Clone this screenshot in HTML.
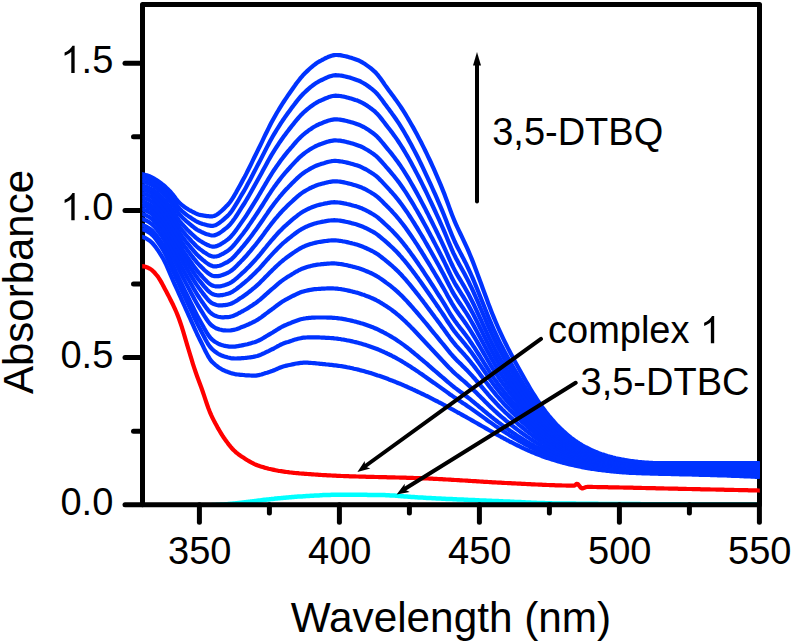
<!DOCTYPE html>
<html><head><meta charset="utf-8"><style>
html,body{margin:0;padding:0;background:#fff;}
svg{display:block;}
text{font-family:"Liberation Sans",sans-serif;fill:#000;}
</style></head><body>
<svg width="791" height="643" viewBox="0 0 791 643">
<rect width="791" height="643" fill="#fff"/>
<defs><clipPath id="cc"><rect x="142.5" y="0" width="617" height="504.8"/></clipPath><clipPath id="cb"><rect x="142.2" y="0" width="617.6" height="643"/></clipPath></defs>
<g clip-path="url(#cc)" fill="none" stroke="#00ffff" stroke-width="4.5" stroke-linejoin="round"><polyline points="139.5,505.5 142.5,505.5 143.9,505.5 145.3,505.5 146.7,505.5 148.1,505.5 149.5,505.5 150.9,505.5 152.3,505.5 153.7,505.5 155.1,505.5 156.5,505.5 157.9,505.5 159.3,505.5 160.7,505.5 162.1,505.5 163.5,505.5 164.9,505.5 166.3,505.5 167.7,505.5 169.1,505.5 170.5,505.5 171.9,505.5 173.3,505.5 174.7,505.5 176.1,505.5 177.5,505.5 178.9,505.5 180.3,505.5 181.7,505.5 183.1,505.5 184.5,505.5 185.9,505.5 187.3,505.5 188.7,505.5 190.1,505.5 191.5,505.5 192.9,505.5 194.3,505.5 195.7,505.5 197.1,505.5 198.5,505.5 199.9,505.5 201.3,505.5 202.7,505.5 204.1,505.5 205.5,505.4 206.9,505.4 208.3,505.3 209.7,505.2 211.1,505.2 212.5,505.1 213.9,505.0 215.3,504.9 216.7,504.8 218.1,504.8 219.5,504.7 220.9,504.6 222.3,504.5 223.7,504.4 225.1,504.3 226.5,504.2 227.9,504.1 229.3,503.9 230.7,503.8 232.1,503.7 233.5,503.5 234.9,503.4 236.3,503.2 237.7,503.1 239.1,502.9 240.5,502.7 241.9,502.6 243.3,502.4 244.7,502.2 246.1,502.1 247.5,501.9 248.9,501.7 250.3,501.6 251.7,501.4 253.1,501.2 254.5,501.1 255.9,500.9 257.3,500.7 258.7,500.5 260.1,500.4 261.5,500.2 262.9,500.0 264.3,499.8 265.7,499.7 267.1,499.5 268.5,499.4 269.9,499.2 271.3,499.1 272.7,498.9 274.1,498.8 275.5,498.6 276.9,498.5 278.3,498.3 279.7,498.2 281.1,498.1 282.5,497.9 283.9,497.8 285.3,497.7 286.7,497.5 288.1,497.4 289.5,497.3 290.9,497.2 292.3,497.0 293.7,496.9 295.1,496.8 296.5,496.7 297.9,496.6 299.3,496.5 300.7,496.5 302.1,496.4 303.5,496.3 304.9,496.2 306.3,496.1 307.7,496.0 309.1,495.9 310.5,495.8 311.9,495.8 313.3,495.7 314.7,495.6 316.1,495.5 317.5,495.4 318.9,495.4 320.3,495.3 321.7,495.2 323.1,495.1 324.5,495.1 325.9,495.0 327.3,495.0 328.7,494.9 330.1,494.9 331.5,494.8 332.9,494.8 334.3,494.8 335.7,494.7 337.1,494.7 338.5,494.7 339.9,494.7 341.3,494.7 342.7,494.7 344.1,494.7 345.5,494.7 346.9,494.7 348.3,494.7 349.7,494.7 351.1,494.7 352.5,494.7 353.9,494.7 355.3,494.7 356.7,494.8 358.1,494.8 359.5,494.8 360.9,494.8 362.3,494.8 363.7,494.8 365.1,494.8 366.5,494.8 367.9,494.9 369.3,494.9 370.7,494.9 372.1,494.9 373.5,494.9 374.9,494.9 376.3,495.0 377.7,495.0 379.1,495.0 380.5,495.0 381.9,495.0 383.3,495.1 384.7,495.1 386.1,495.2 387.5,495.2 388.9,495.3 390.3,495.4 391.7,495.5 393.1,495.5 394.5,495.6 395.9,495.7 397.3,495.8 398.7,495.9 400.1,496.0 401.5,496.2 402.9,496.3 404.3,496.4 405.7,496.5 407.1,496.6 408.5,496.7 409.9,496.8 411.3,496.9 412.7,497.0 414.1,497.1 415.5,497.2 416.9,497.3 418.3,497.4 419.7,497.5 421.1,497.6 422.5,497.6 423.9,497.7 425.3,497.8 426.7,497.9 428.1,497.9 429.5,498.0 430.9,498.1 432.3,498.2 433.7,498.2 435.1,498.3 436.5,498.4 437.9,498.4 439.3,498.5 440.7,498.6 442.1,498.7 443.5,498.7 444.9,498.8 446.3,498.9 447.7,498.9 449.1,499.0 450.5,499.1 451.9,499.1 453.3,499.2 454.7,499.3 456.1,499.3 457.5,499.4 458.9,499.4 460.3,499.5 461.7,499.6 463.1,499.6 464.5,499.7 465.9,499.8 467.3,499.8 468.7,499.9 470.1,500.0 471.5,500.0 472.9,500.1 474.3,500.1 475.7,500.2 477.1,500.3 478.5,500.3 479.9,500.4 481.3,500.4 482.7,500.5 484.1,500.5 485.5,500.6 486.9,500.7 488.3,500.7 489.7,500.8 491.1,500.8 492.5,500.9 493.9,501.0 495.3,501.0 496.7,501.1 498.1,501.1 499.5,501.2 500.9,501.2 502.3,501.3 503.7,501.4 505.1,501.4 506.5,501.5 507.9,501.5 509.3,501.6 510.7,501.7 512.1,501.7 513.5,501.8 514.9,501.9 516.3,501.9 517.7,502.0 519.1,502.1 520.5,502.1 521.9,502.2 523.3,502.3 524.7,502.3 526.1,502.4 527.5,502.5 528.9,502.5 530.3,502.6 531.7,502.7 533.1,502.7 534.5,502.8 535.9,502.8 537.3,502.9 538.7,502.9 540.1,503.0 541.5,503.0 542.9,503.1 544.3,503.1 545.7,503.2 547.1,503.2 548.5,503.3 549.9,503.3 551.3,503.3 552.7,503.4 554.1,503.4 555.5,503.4 556.9,503.5 558.3,503.5 559.7,503.5 561.1,503.5 562.5,503.5 563.9,503.5 565.3,503.6 566.7,503.6 568.1,503.6 569.5,503.6 570.9,503.6 572.3,503.6 573.7,503.6 575.1,503.6 576.5,503.7 577.9,503.7 579.3,503.7 580.7,503.7 582.1,503.7 583.5,503.7 584.9,503.7 586.3,503.8 587.7,503.8 589.1,503.8 590.5,503.8 591.9,503.8 593.3,503.8 594.7,503.8 596.1,503.8 597.5,503.8 598.9,503.9 600.3,503.9 601.7,503.9 603.1,503.9 604.5,503.9 605.9,503.9 607.3,503.9 608.7,503.9 610.1,503.9 611.5,504.0 612.9,504.0 614.3,504.0 615.7,504.0 617.1,504.0 618.5,504.0 619.9,504.0 621.3,504.0 622.7,504.0 624.1,504.0 625.5,504.1 626.9,504.1 628.3,504.1 629.7,504.1 631.1,504.1 632.5,504.1 633.9,504.1 635.3,504.1 636.7,504.1 638.1,504.1 639.5,504.1 640.9,504.2 642.3,504.2 643.7,504.2 645.1,504.2 646.5,504.2 647.9,504.2 649.3,504.2 650.7,504.2 652.1,504.2 653.5,504.2 654.9,504.2 656.3,504.2 657.7,504.2 659.1,504.3 660.5,504.3 661.9,504.3 663.3,504.3 664.7,504.3 666.1,504.3 667.5,504.3 668.9,504.3 670.3,504.3 671.7,504.3 673.1,504.3 674.5,504.3 675.9,504.3 677.3,504.3 678.7,504.3 680.1,504.3 681.5,504.4 682.9,504.4 684.3,504.4 685.7,504.4 687.1,504.4 688.5,504.4 689.9,504.4 691.3,504.4 692.7,504.4 694.1,504.4 695.5,504.4 696.9,504.4 698.3,504.4 699.7,504.4 701.1,504.4 702.5,504.4 703.9,504.4 705.3,504.4 706.7,504.4 708.1,504.4 709.5,504.4 710.9,504.4 712.3,504.4 713.7,504.4 715.1,504.5 716.5,504.5 717.9,504.5 719.3,504.5 720.7,504.5 722.1,504.5 723.5,504.5 724.9,504.5 726.3,504.5 727.7,504.5 729.1,504.5 730.5,504.5 731.9,504.5 733.3,504.5 734.7,504.5 736.1,504.5 737.5,504.5 738.9,504.5 740.3,504.5 741.7,504.5 743.1,504.5 744.5,504.5 745.9,504.5 747.3,504.5 748.7,504.5 750.1,504.5 751.5,504.5 752.9,504.5 754.3,504.5 755.7,504.5 757.1,504.5 758.5,504.5 762.5,504.5"/></g>
<g fill="none" stroke="#000" stroke-width="5" stroke-linecap="round">
<line x1="125" y1="504.8" x2="142.5" y2="504.8"/><line x1="125" y1="357.6" x2="142.5" y2="357.6"/><line x1="125" y1="210.4" x2="142.5" y2="210.4"/><line x1="125" y1="63.2" x2="142.5" y2="63.2"/><line x1="133.5" y1="431.2" x2="142.5" y2="431.2"/><line x1="133.5" y1="284.0" x2="142.5" y2="284.0"/><line x1="133.5" y1="136.8" x2="142.5" y2="136.8"/><line x1="199.4" y1="504.8" x2="199.4" y2="522.3"/><line x1="339.4" y1="504.8" x2="339.4" y2="522.3"/><line x1="479.4" y1="504.8" x2="479.4" y2="522.3"/><line x1="619.4" y1="504.8" x2="619.4" y2="522.3"/><line x1="759.4" y1="504.8" x2="759.4" y2="522.3"/><line x1="269.4" y1="504.8" x2="269.4" y2="513"/><line x1="409.4" y1="504.8" x2="409.4" y2="513"/><line x1="549.4" y1="504.8" x2="549.4" y2="513"/><line x1="689.4" y1="504.8" x2="689.4" y2="513"/>
</g>
<path d="M142.5,504.8 L142.5,4.5 L759.5,4.5 L759.5,504.8 Z" fill="none" stroke="#000" stroke-width="5" stroke-linejoin="round"/>
<g clip-path="url(#cb)" fill="none" stroke="#0033ff" stroke-width="4.2" stroke-linejoin="round">
<polyline points="139.5,236.8 142.5,237.0 143.9,237.4 145.3,238.0 146.7,238.8 148.1,239.7 149.5,240.6 150.9,241.7 152.3,243.0 153.7,244.6 155.1,246.3 156.5,248.2 157.9,250.2 159.3,252.4 160.7,254.6 162.1,256.9 163.5,259.3 164.9,262.0 166.3,264.9 167.7,268.1 169.1,271.3 170.5,274.6 171.9,277.9 173.3,281.2 174.7,284.4 176.1,287.4 177.5,290.5 178.9,293.6 180.3,296.7 181.7,299.8 183.1,302.9 184.5,306.0 185.9,309.1 187.3,312.2 188.7,315.3 190.1,318.4 191.5,321.6 192.9,324.7 194.3,327.9 195.7,330.9 197.1,334.0 198.5,336.9 199.9,339.7 201.3,342.5 202.7,345.4 204.1,348.4 205.5,351.2 206.9,353.9 208.3,356.5 209.7,358.7 211.1,360.7 212.5,362.2 213.9,363.5 215.3,364.8 216.7,365.9 218.1,367.0 219.5,367.9 220.9,368.8 222.3,369.6 223.7,370.3 225.1,370.9 226.5,371.4 227.9,372.0 229.3,372.5 230.7,373.0 232.1,373.4 233.5,373.7 234.9,374.1 236.3,374.3 237.7,374.5 239.1,374.6 240.5,374.8 241.9,374.9 243.3,375.0 244.7,375.2 246.1,375.3 247.5,375.4 248.9,375.4 250.3,375.5 251.7,375.6 253.1,375.6 254.5,375.6 255.9,375.6 257.3,375.4 258.7,375.2 260.1,374.8 261.5,374.5 262.9,374.0 264.3,373.6 265.7,373.1 267.1,372.7 268.5,372.2 269.9,371.8 271.3,371.3 272.7,370.8 274.1,370.2 275.5,369.6 276.9,369.0 278.3,368.4 279.7,367.8 281.1,367.2 282.5,366.7 283.9,366.3 285.3,365.9 286.7,365.6 288.1,365.3 289.5,365.0 290.9,364.7 292.3,364.4 293.7,364.1 295.1,363.8 296.5,363.5 297.9,363.3 299.3,363.1 300.7,362.9 302.1,362.8 303.5,362.7 304.9,362.7 306.3,362.7 307.7,362.7 309.1,362.8 310.5,362.9 311.9,363.0 313.3,363.1 314.7,363.2 316.1,363.3 317.5,363.5 318.9,363.6 320.3,363.8 321.7,363.9 323.1,364.1 324.5,364.2 325.9,364.4 327.3,364.5 328.7,364.6 330.1,364.8 331.5,364.9 332.9,365.1 334.3,365.3 335.7,365.4 337.1,365.6 338.5,365.8 339.9,366.0 341.3,366.2 342.7,366.4 344.1,366.7 345.5,366.9 346.9,367.2 348.3,367.5 349.7,367.7 351.1,368.0 352.5,368.3 353.9,368.7 355.3,369.0 356.7,369.3 358.1,369.6 359.5,370.0 360.9,370.4 362.3,370.7 363.7,371.1 365.1,371.5 366.5,371.9 367.9,372.3 369.3,372.7 370.7,373.1 372.1,373.6 373.5,374.0 374.9,374.4 376.3,374.9 377.7,375.4 379.1,375.8 380.5,376.3 381.9,376.8 383.3,377.3 384.7,377.8 386.1,378.3 387.5,378.8 388.9,379.4 390.3,379.9 391.7,380.4 393.1,381.0 394.5,381.5 395.9,382.1 397.3,382.7 398.7,383.3 400.1,383.8 401.5,384.4 402.9,385.0 404.3,385.6 405.7,386.2 407.1,386.8 408.5,387.5 409.9,388.1 411.3,388.7 412.7,389.4 414.1,390.0 415.5,390.7 416.9,391.3 418.3,392.0 419.7,392.6 421.1,393.3 422.5,394.0 423.9,394.7 425.3,395.4 426.7,396.0 428.1,396.7 429.5,397.4 430.9,398.1 432.3,398.8 433.7,399.6 435.1,400.3 436.5,401.0 437.9,401.7 439.3,402.5 440.7,403.2 442.1,403.9 443.5,404.7 444.9,405.4 446.3,406.2 447.7,406.9 449.1,407.7 450.5,408.4 451.9,409.2 453.3,409.9 454.7,410.7 456.1,411.5 457.5,412.3 458.9,413.0 460.3,413.8 461.7,414.6 463.1,415.4 464.5,416.2 465.9,416.9 467.3,417.7 468.7,418.5 470.1,419.3 471.5,420.1 472.9,420.9 474.3,421.7 475.7,422.5 477.1,423.3 478.5,424.1 479.9,424.9 481.3,425.7 482.7,426.5 484.1,427.3 485.5,428.1 486.9,428.9 488.3,429.7 489.7,430.5 491.1,431.3 492.5,432.1 493.9,432.9 495.3,433.7 496.7,434.5 498.1,435.2 499.5,436.0 500.9,436.8 502.3,437.5 503.7,438.3 505.1,439.0 506.5,439.8 507.9,440.5 509.3,441.3 510.7,442.0 512.1,442.7 513.5,443.4 514.9,444.1 516.3,444.8 517.7,445.5 519.1,446.2 520.5,446.9 521.9,447.6 523.3,448.2 524.7,448.9 526.1,449.5 527.5,450.1 528.9,450.8 530.3,451.4 531.7,452.0 533.1,452.6 534.5,453.1 535.9,453.7 537.3,454.3 538.7,454.8 540.1,455.3 541.5,455.9 542.9,456.4 544.3,456.9 545.7,457.4 547.1,457.9 548.5,458.3 549.9,458.8 551.3,459.2 552.7,459.7 554.1,460.1 555.5,460.6 556.9,461.0 558.3,461.4 559.7,461.8 561.1,462.2 562.5,462.6 563.9,462.9 565.3,463.3 566.7,463.7 568.1,464.0 569.5,464.4 570.9,464.7 572.3,465.0 573.7,465.3 575.1,465.6 576.5,466.0 577.9,466.2 579.3,466.5 580.7,466.8 582.1,467.1 583.5,467.4 584.9,467.6 586.3,467.9 587.7,468.1 589.1,468.3 590.5,468.6 591.9,468.8 593.3,469.0 594.7,469.2 596.1,469.4 597.5,469.6 598.9,469.8 600.3,470.0 601.7,470.2 603.1,470.4 604.5,470.5 605.9,470.7 607.3,470.9 608.7,471.0 610.1,471.2 611.5,471.3 612.9,471.5 614.3,471.6 615.7,471.7 617.1,471.8 618.5,472.0 619.9,472.1 621.3,472.2 622.7,472.3 624.1,472.4 625.5,472.5 626.9,472.6 628.3,472.7 629.7,472.8 631.1,472.8 632.5,472.9 633.9,473.0 635.3,473.0 636.7,473.1 638.1,473.1 639.5,473.2 640.9,473.2 642.3,473.3 643.7,473.3 645.1,473.4 646.5,473.4 647.9,473.5 649.3,473.5 650.7,473.6 652.1,473.6 653.5,473.6 654.9,473.7 656.3,473.7 657.7,473.7 659.1,473.8 660.5,473.8 661.9,473.8 663.3,473.9 664.7,473.9 666.1,473.9 667.5,474.0 668.9,474.0 670.3,474.0 671.7,474.1 673.1,474.1 674.5,474.1 675.9,474.2 677.3,474.2 678.7,474.2 680.1,474.3 681.5,474.3 682.9,474.3 684.3,474.4 685.7,474.4 687.1,474.4 688.5,474.5 689.9,474.5 691.3,474.5 692.7,474.6 694.1,474.6 695.5,474.6 696.9,474.7 698.3,474.7 699.7,474.8 701.1,474.8 702.5,474.8 703.9,474.9 705.3,474.9 706.7,474.9 708.1,475.0 709.5,475.0 710.9,475.1 712.3,475.1 713.7,475.1 715.1,475.2 716.5,475.2 717.9,475.3 719.3,475.3 720.7,475.4 722.1,475.4 723.5,475.4 724.9,475.5 726.3,475.5 727.7,475.6 729.1,475.6 730.5,475.7 731.9,475.8 733.3,475.8 734.7,475.9 736.1,475.9 737.5,476.0 738.9,476.0 740.3,476.1 741.7,476.2 743.1,476.2 744.5,476.3 745.9,476.3 747.3,476.4 748.7,476.5 750.1,476.5 751.5,476.6 752.9,476.7 754.3,476.7 755.7,476.8 757.1,476.9 758.5,476.9 762.5,477.2"/><polyline points="139.5,229.2 142.5,229.4 143.9,229.8 145.3,230.3 146.7,231.1 148.1,231.9 149.5,232.8 150.9,233.8 152.3,235.1 153.7,236.5 155.1,238.2 156.5,240.0 157.9,242.0 159.3,244.0 160.7,246.2 162.1,248.4 163.5,250.7 164.9,253.3 166.3,256.1 167.7,259.1 169.1,262.2 170.5,265.4 171.9,268.7 173.3,271.9 174.7,275.0 176.1,278.1 177.5,281.2 178.9,284.2 180.3,287.3 181.7,290.3 183.1,293.3 184.5,296.4 185.9,299.4 187.3,302.4 188.7,305.4 190.1,308.4 191.5,311.4 192.9,314.5 194.3,317.5 195.7,320.4 197.1,323.3 198.5,326.1 199.9,328.8 201.3,331.4 202.7,334.1 204.1,336.8 205.5,339.5 206.9,342.0 208.3,344.3 209.7,346.4 211.1,348.1 212.5,349.5 213.9,350.7 215.3,351.8 216.7,352.8 218.1,353.7 219.5,354.5 220.9,355.2 222.3,355.7 223.7,356.3 225.1,356.7 226.5,357.1 227.9,357.5 229.3,357.8 230.7,358.1 232.1,358.3 233.5,358.4 234.9,358.5 236.3,358.5 237.7,358.4 239.1,358.3 240.5,358.3 241.9,358.2 243.3,358.1 244.7,358.0 246.1,357.8 247.5,357.7 248.9,357.5 250.3,357.3 251.7,357.1 253.1,356.9 254.5,356.6 255.9,356.3 257.3,356.0 258.7,355.5 260.1,355.0 261.5,354.4 262.9,353.7 264.3,353.1 265.7,352.4 267.1,351.7 268.5,351.1 269.9,350.4 271.3,349.7 272.7,349.0 274.1,348.3 275.5,347.5 276.9,346.7 278.3,346.0 279.7,345.2 281.1,344.5 282.5,343.9 283.9,343.3 285.3,342.8 286.7,342.3 288.1,341.9 289.5,341.4 290.9,340.9 292.3,340.5 293.7,340.0 295.1,339.6 296.5,339.2 297.9,338.8 299.3,338.5 300.7,338.2 302.1,337.9 303.5,337.7 304.9,337.6 306.3,337.5 307.7,337.4 309.1,337.3 310.5,337.3 311.9,337.3 313.3,337.3 314.7,337.3 316.1,337.3 317.5,337.4 318.9,337.4 320.3,337.5 321.7,337.6 323.1,337.6 324.5,337.7 325.9,337.8 327.3,337.9 328.7,337.9 330.1,338.0 331.5,338.1 332.9,338.2 334.3,338.4 335.7,338.5 337.1,338.7 338.5,338.9 339.9,339.0 341.3,339.3 342.7,339.5 344.1,339.7 345.5,340.0 346.9,340.3 348.3,340.5 349.7,340.8 351.1,341.1 352.5,341.4 353.9,341.8 355.3,342.1 356.7,342.4 358.1,342.8 359.5,343.2 360.9,343.6 362.3,344.0 363.7,344.4 365.1,344.8 366.5,345.3 367.9,345.7 369.3,346.2 370.7,346.7 372.1,347.2 373.5,347.7 374.9,348.2 376.3,348.7 377.7,349.3 379.1,349.9 380.5,350.5 381.9,351.1 383.3,351.7 384.7,352.4 386.1,353.0 387.5,353.7 388.9,354.3 390.3,355.0 391.7,355.7 393.1,356.5 394.5,357.2 395.9,357.9 397.3,358.7 398.7,359.5 400.1,360.3 401.5,361.1 402.9,362.0 404.3,362.8 405.7,363.7 407.1,364.5 408.5,365.4 409.9,366.3 411.3,367.2 412.7,368.2 414.1,369.1 415.5,370.0 416.9,370.9 418.3,371.9 419.7,372.9 421.1,373.8 422.5,374.8 423.9,375.8 425.3,376.7 426.7,377.7 428.1,378.7 429.5,379.7 430.9,380.7 432.3,381.7 433.7,382.7 435.1,383.6 436.5,384.6 437.9,385.6 439.3,386.6 440.7,387.6 442.1,388.6 443.5,389.6 444.9,390.6 446.3,391.6 447.7,392.6 449.1,393.7 450.5,394.7 451.9,395.6 453.3,396.6 454.7,397.6 456.1,398.5 457.5,399.4 458.9,400.4 460.3,401.3 461.7,402.2 463.1,403.2 464.5,404.1 465.9,405.0 467.3,406.0 468.7,406.9 470.1,407.9 471.5,408.9 472.9,409.9 474.3,410.9 475.7,411.9 477.1,412.9 478.5,413.9 479.9,414.9 481.3,415.9 482.7,416.9 484.1,417.9 485.5,418.9 486.9,420.0 488.3,421.0 489.7,421.9 491.1,422.9 492.5,423.9 493.9,424.9 495.3,425.9 496.7,426.8 498.1,427.8 499.5,428.7 500.9,429.6 502.3,430.5 503.7,431.4 505.1,432.3 506.5,433.2 507.9,434.1 509.3,435.0 510.7,435.9 512.1,436.7 513.5,437.6 514.9,438.4 516.3,439.2 517.7,440.1 519.1,440.9 520.5,441.7 521.9,442.5 523.3,443.3 524.7,444.0 526.1,444.8 527.5,445.5 528.9,446.3 530.3,447.0 531.7,447.7 533.1,448.4 534.5,449.1 535.9,449.8 537.3,450.4 538.7,451.1 540.1,451.7 541.5,452.3 542.9,452.9 544.3,453.5 545.7,454.1 547.1,454.7 548.5,455.2 549.9,455.8 551.3,456.3 552.7,456.8 554.1,457.3 555.5,457.8 556.9,458.3 558.3,458.8 559.7,459.3 561.1,459.7 562.5,460.2 563.9,460.6 565.3,461.0 566.7,461.4 568.1,461.9 569.5,462.2 570.9,462.6 572.3,463.0 573.7,463.4 575.1,463.7 576.5,464.1 577.9,464.4 579.3,464.7 580.7,465.1 582.1,465.4 583.5,465.7 584.9,466.0 586.3,466.2 587.7,466.5 589.1,466.8 590.5,467.1 591.9,467.3 593.3,467.6 594.7,467.8 596.1,468.0 597.5,468.2 598.9,468.5 600.3,468.7 601.7,468.9 603.1,469.1 604.5,469.3 605.9,469.4 607.3,469.6 608.7,469.8 610.1,470.0 611.5,470.1 612.9,470.3 614.3,470.4 615.7,470.6 617.1,470.7 618.5,470.8 619.9,471.0 621.3,471.1 622.7,471.2 624.1,471.3 625.5,471.4 626.9,471.5 628.3,471.6 629.7,471.7 631.1,471.8 632.5,471.9 633.9,472.0 635.3,472.0 636.7,472.1 638.1,472.2 639.5,472.2 640.9,472.3 642.3,472.3 643.7,472.4 645.1,472.4 646.5,472.5 647.9,472.5 649.3,472.6 650.7,472.6 652.1,472.7 653.5,472.7 654.9,472.7 656.3,472.8 657.7,472.8 659.1,472.8 660.5,472.9 661.9,472.9 663.3,472.9 664.7,473.0 666.1,473.0 667.5,473.0 668.9,473.0 670.3,473.1 671.7,473.1 673.1,473.1 674.5,473.2 675.9,473.2 677.3,473.2 678.7,473.2 680.1,473.3 681.5,473.3 682.9,473.3 684.3,473.4 685.7,473.4 687.1,473.4 688.5,473.5 689.9,473.5 691.3,473.5 692.7,473.6 694.1,473.6 695.5,473.6 696.9,473.7 698.3,473.7 699.7,473.7 701.1,473.8 702.5,473.8 703.9,473.8 705.3,473.9 706.7,473.9 708.1,473.9 709.5,474.0 710.9,474.0 712.3,474.1 713.7,474.1 715.1,474.1 716.5,474.2 717.9,474.2 719.3,474.2 720.7,474.3 722.1,474.3 723.5,474.4 724.9,474.4 726.3,474.5 727.7,474.5 729.1,474.5 730.5,474.6 731.9,474.6 733.3,474.7 734.7,474.7 736.1,474.8 737.5,474.9 738.9,474.9 740.3,475.0 741.7,475.0 743.1,475.1 744.5,475.1 745.9,475.2 747.3,475.2 748.7,475.3 750.1,475.4 751.5,475.4 752.9,475.5 754.3,475.5 755.7,475.6 757.1,475.7 758.5,475.7 762.5,475.9"/><polyline points="139.5,225.0 142.5,225.2 143.9,225.6 145.3,226.2 146.7,226.9 148.1,227.7 149.5,228.6 150.9,229.5 152.3,230.7 153.7,232.2 155.1,233.7 156.5,235.5 157.9,237.4 159.3,239.4 160.7,241.4 162.1,243.5 163.5,245.8 164.9,248.3 166.3,251.0 167.7,253.9 169.1,256.9 170.5,260.0 171.9,263.1 173.3,266.2 174.7,269.3 176.1,272.3 177.5,275.2 178.9,278.2 180.3,281.1 181.7,284.0 183.1,286.9 184.5,289.8 185.9,292.7 187.3,295.5 188.7,298.4 190.1,301.3 191.5,304.1 192.9,307.0 194.3,309.9 195.7,312.7 197.1,315.4 198.5,318.0 199.9,320.5 201.3,323.0 202.7,325.5 204.1,328.1 205.5,330.5 206.9,332.9 208.3,335.0 209.7,337.0 211.1,338.6 212.5,339.9 213.9,341.0 215.3,342.0 216.7,342.8 218.1,343.6 219.5,344.2 220.9,344.8 222.3,345.2 223.7,345.6 225.1,345.9 226.5,346.2 227.9,346.4 229.3,346.6 230.7,346.7 232.1,346.7 233.5,346.7 234.9,346.6 236.3,346.4 237.7,346.2 239.1,345.9 240.5,345.7 241.9,345.4 243.3,345.1 244.7,344.8 246.1,344.5 247.5,344.2 248.9,343.8 250.3,343.4 251.7,343.0 253.1,342.6 254.5,342.2 255.9,341.7 257.3,341.1 258.7,340.5 260.1,339.8 261.5,339.1 262.9,338.3 264.3,337.4 265.7,336.6 267.1,335.7 268.5,334.9 269.9,334.1 271.3,333.3 272.7,332.5 274.1,331.6 275.5,330.7 276.9,329.8 278.3,328.9 279.7,328.1 281.1,327.3 282.5,326.5 283.9,325.8 285.3,325.2 286.7,324.6 288.1,324.0 289.5,323.4 290.9,322.9 292.3,322.3 293.7,321.7 295.1,321.2 296.5,320.7 297.9,320.2 299.3,319.7 300.7,319.3 302.1,319.0 303.5,318.7 304.9,318.5 306.3,318.2 307.7,318.1 309.1,317.9 310.5,317.8 311.9,317.7 313.3,317.6 314.7,317.6 316.1,317.5 317.5,317.5 318.9,317.5 320.3,317.5 321.7,317.5 323.1,317.5 324.5,317.5 325.9,317.5 327.3,317.6 328.7,317.6 330.1,317.6 331.5,317.7 332.9,317.8 334.3,317.9 335.7,318.0 337.1,318.1 338.5,318.3 339.9,318.5 341.3,318.7 342.7,318.9 344.1,319.2 345.5,319.4 346.9,319.7 348.3,320.0 349.7,320.3 351.1,320.6 352.5,320.9 353.9,321.3 355.3,321.6 356.7,322.0 358.1,322.4 359.5,322.7 360.9,323.2 362.3,323.6 363.7,324.0 365.1,324.5 366.5,325.0 367.9,325.5 369.3,326.0 370.7,326.5 372.1,327.1 373.5,327.6 374.9,328.2 376.3,328.8 377.7,329.4 379.1,330.1 380.5,330.8 381.9,331.5 383.3,332.2 384.7,333.0 386.1,333.7 387.5,334.5 388.9,335.3 390.3,336.1 391.7,336.9 393.1,337.8 394.5,338.6 395.9,339.5 397.3,340.5 398.7,341.4 400.1,342.4 401.5,343.4 402.9,344.4 404.3,345.4 405.7,346.5 407.1,347.5 408.5,348.6 409.9,349.7 411.3,350.9 412.7,352.0 414.1,353.1 415.5,354.3 416.9,355.4 418.3,356.6 419.7,357.8 421.1,359.0 422.5,360.1 423.9,361.3 425.3,362.5 426.7,363.7 428.1,364.9 429.5,366.2 430.9,367.4 432.3,368.6 433.7,369.8 435.1,371.0 436.5,372.2 437.9,373.4 439.3,374.6 440.7,375.8 442.1,377.0 443.5,378.2 444.9,379.4 446.3,380.6 447.7,381.8 449.1,383.0 450.5,384.2 451.9,385.3 453.3,386.5 454.7,387.6 456.1,388.6 457.5,389.7 458.9,390.7 460.3,391.8 461.7,392.8 463.1,393.8 464.5,394.9 465.9,396.0 467.3,397.0 468.7,398.1 470.1,399.2 471.5,400.3 472.9,401.5 474.3,402.6 475.7,403.8 477.1,404.9 478.5,406.1 479.9,407.3 481.3,408.4 482.7,409.6 484.1,410.8 485.5,412.0 486.9,413.1 488.3,414.3 489.7,415.4 491.1,416.6 492.5,417.7 493.9,418.8 495.3,419.9 496.7,421.0 498.1,422.1 499.5,423.1 500.9,424.2 502.3,425.2 503.7,426.2 505.1,427.2 506.5,428.2 507.9,429.2 509.3,430.2 510.7,431.2 512.1,432.1 513.5,433.1 514.9,434.0 516.3,435.0 517.7,435.9 519.1,436.8 520.5,437.7 521.9,438.6 523.3,439.5 524.7,440.3 526.1,441.2 527.5,442.0 528.9,442.9 530.3,443.7 531.7,444.5 533.1,445.2 534.5,446.0 535.9,446.8 537.3,447.5 538.7,448.2 540.1,448.9 541.5,449.6 542.9,450.3 544.3,451.0 545.7,451.6 547.1,452.3 548.5,452.9 549.9,453.5 551.3,454.1 552.7,454.7 554.1,455.2 555.5,455.8 556.9,456.3 558.3,456.8 559.7,457.4 561.1,457.9 562.5,458.4 563.9,458.8 565.3,459.3 566.7,459.8 568.1,460.2 569.5,460.6 570.9,461.1 572.3,461.5 573.7,461.9 575.1,462.3 576.5,462.6 577.9,463.0 579.3,463.4 580.7,463.7 582.1,464.1 583.5,464.4 584.9,464.7 586.3,465.0 587.7,465.3 589.1,465.6 590.5,465.9 591.9,466.2 593.3,466.4 594.7,466.7 596.1,466.9 597.5,467.2 598.9,467.4 600.3,467.6 601.7,467.9 603.1,468.1 604.5,468.3 605.9,468.5 607.3,468.7 608.7,468.9 610.1,469.0 611.5,469.2 612.9,469.4 614.3,469.5 615.7,469.7 617.1,469.8 618.5,470.0 619.9,470.1 621.3,470.3 622.7,470.4 624.1,470.5 625.5,470.6 626.9,470.7 628.3,470.8 629.7,470.9 631.1,471.0 632.5,471.1 633.9,471.2 635.3,471.3 636.7,471.4 638.1,471.4 639.5,471.5 640.9,471.6 642.3,471.6 643.7,471.7 645.1,471.7 646.5,471.8 647.9,471.8 649.3,471.9 650.7,471.9 652.1,472.0 653.5,472.0 654.9,472.0 656.3,472.1 657.7,472.1 659.1,472.1 660.5,472.2 661.9,472.2 663.3,472.2 664.7,472.2 666.1,472.3 667.5,472.3 668.9,472.3 670.3,472.3 671.7,472.4 673.1,472.4 674.5,472.4 675.9,472.5 677.3,472.5 678.7,472.5 680.1,472.5 681.5,472.6 682.9,472.6 684.3,472.6 685.7,472.6 687.1,472.7 688.5,472.7 689.9,472.7 691.3,472.8 692.7,472.8 694.1,472.8 695.5,472.9 696.9,472.9 698.3,472.9 699.7,473.0 701.1,473.0 702.5,473.0 703.9,473.1 705.3,473.1 706.7,473.1 708.1,473.2 709.5,473.2 710.9,473.2 712.3,473.3 713.7,473.3 715.1,473.3 716.5,473.4 717.9,473.4 719.3,473.4 720.7,473.5 722.1,473.5 723.5,473.5 724.9,473.6 726.3,473.6 727.7,473.7 729.1,473.7 730.5,473.8 731.9,473.8 733.3,473.8 734.7,473.9 736.1,473.9 737.5,474.0 738.9,474.0 740.3,474.1 741.7,474.1 743.1,474.2 744.5,474.2 745.9,474.3 747.3,474.4 748.7,474.4 750.1,474.5 751.5,474.5 752.9,474.6 754.3,474.6 755.7,474.7 757.1,474.8 758.5,474.8 762.5,475.0"/><polyline points="139.5,219.0 142.5,219.2 143.9,219.6 145.3,220.2 146.7,220.8 148.1,221.6 149.5,222.5 150.9,223.4 152.3,224.5 153.7,225.9 155.1,227.4 156.5,229.0 157.9,230.8 159.3,232.7 160.7,234.6 162.1,236.6 163.5,238.8 164.9,241.1 166.3,243.7 167.7,246.4 169.1,249.2 170.5,252.1 171.9,255.1 173.3,258.1 174.7,261.0 176.1,263.9 177.5,266.7 178.9,269.5 180.3,272.3 181.7,275.0 183.1,277.7 184.5,280.4 185.9,283.1 187.3,285.7 188.7,288.4 190.1,291.0 191.5,293.7 192.9,296.3 194.3,299.0 195.7,301.5 197.1,304.0 198.5,306.4 199.9,308.7 201.3,310.9 202.7,313.2 204.1,315.5 205.5,317.7 206.9,319.8 208.3,321.7 209.7,323.5 211.1,324.9 212.5,326.1 213.9,327.0 215.3,327.8 216.7,328.5 218.1,329.0 219.5,329.5 220.9,329.8 222.3,330.1 223.7,330.3 225.1,330.4 226.5,330.5 227.9,330.5 229.3,330.5 230.7,330.4 232.1,330.2 233.5,329.9 234.9,329.6 236.3,329.2 237.7,328.7 239.1,328.2 240.5,327.6 241.9,327.1 243.3,326.6 244.7,326.0 246.1,325.4 247.5,324.8 248.9,324.2 250.3,323.5 251.7,322.9 253.1,322.2 254.5,321.5 255.9,320.7 257.3,319.9 258.7,319.0 260.1,318.1 261.5,317.1 262.9,316.0 264.3,315.0 265.7,313.9 267.1,312.9 268.5,311.8 269.9,310.8 271.3,309.8 272.7,308.7 274.1,307.7 275.5,306.6 276.9,305.5 278.3,304.5 279.7,303.5 281.1,302.5 282.5,301.6 283.9,300.7 285.3,299.9 286.7,299.2 288.1,298.4 289.5,297.7 290.9,296.9 292.3,296.2 293.7,295.5 295.1,294.8 296.5,294.1 297.9,293.5 299.3,292.9 300.7,292.3 302.1,291.8 303.5,291.4 304.9,291.0 306.3,290.7 307.7,290.4 309.1,290.1 310.5,289.8 311.9,289.6 313.3,289.4 314.7,289.2 316.1,289.1 317.5,289.0 318.9,288.9 320.3,288.8 321.7,288.7 323.1,288.6 324.5,288.6 325.9,288.5 327.3,288.4 328.7,288.4 330.1,288.4 331.5,288.4 332.9,288.4 334.3,288.5 335.7,288.6 337.1,288.7 338.5,288.9 339.9,289.0 341.3,289.2 342.7,289.5 344.1,289.7 345.5,290.0 346.9,290.3 348.3,290.6 349.7,290.9 351.1,291.2 352.5,291.6 353.9,291.9 355.3,292.3 356.7,292.6 358.1,293.0 359.5,293.4 360.9,293.9 362.3,294.4 363.7,294.8 365.1,295.4 366.5,295.9 367.9,296.4 369.3,297.0 370.7,297.6 372.1,298.2 373.5,298.8 374.9,299.5 376.3,300.2 377.7,301.0 379.1,301.7 380.5,302.6 381.9,303.4 383.3,304.3 384.7,305.2 386.1,306.1 387.5,307.0 388.9,307.9 390.3,308.9 391.7,309.9 393.1,311.0 394.5,312.0 395.9,313.1 397.3,314.3 398.7,315.4 400.1,316.7 401.5,317.9 402.9,319.2 404.3,320.5 405.7,321.8 407.1,323.2 408.5,324.5 409.9,325.9 411.3,327.4 412.7,328.8 414.1,330.2 415.5,331.7 416.9,333.2 418.3,334.7 419.7,336.2 421.1,337.7 422.5,339.2 423.9,340.7 425.3,342.2 426.7,343.7 428.1,345.2 429.5,346.7 430.9,348.3 432.3,349.8 433.7,351.3 435.1,352.8 436.5,354.3 437.9,355.8 439.3,357.3 440.7,358.8 442.1,360.3 443.5,361.7 444.9,363.2 446.3,364.7 447.7,366.2 449.1,367.7 450.5,369.1 451.9,370.5 453.3,371.9 454.7,373.2 456.1,374.5 457.5,375.7 458.9,376.9 460.3,378.1 461.7,379.3 463.1,380.5 464.5,381.7 465.9,382.9 467.3,384.2 468.7,385.5 470.1,386.8 471.5,388.1 472.9,389.4 474.3,390.8 475.7,392.1 477.1,393.5 478.5,394.9 479.9,396.3 481.3,397.7 482.7,399.1 484.1,400.5 485.5,401.9 486.9,403.3 488.3,404.7 489.7,406.1 491.1,407.4 492.5,408.7 493.9,410.1 495.3,411.3 496.7,412.6 498.1,413.9 499.5,415.1 500.9,416.3 502.3,417.5 503.7,418.7 505.1,419.9 506.5,421.1 507.9,422.2 509.3,423.3 510.7,424.5 512.1,425.6 513.5,426.7 514.9,427.8 516.3,428.8 517.7,429.9 519.1,430.9 520.5,432.0 521.9,433.0 523.3,434.0 524.7,435.0 526.1,436.0 527.5,437.0 528.9,437.9 530.3,438.9 531.7,439.8 533.1,440.7 534.5,441.6 535.9,442.5 537.3,443.3 538.7,444.2 540.1,445.0 541.5,445.8 542.9,446.5 544.3,447.3 545.7,448.1 547.1,448.8 548.5,449.5 549.9,450.2 551.3,450.9 552.7,451.5 554.1,452.2 555.5,452.8 556.9,453.4 558.3,454.0 559.7,454.6 561.1,455.2 562.5,455.7 563.9,456.3 565.3,456.8 566.7,457.3 568.1,457.8 569.5,458.3 570.9,458.8 572.3,459.3 573.7,459.7 575.1,460.2 576.5,460.6 577.9,461.0 579.3,461.4 580.7,461.8 582.1,462.2 583.5,462.5 584.9,462.9 586.3,463.2 587.7,463.6 589.1,463.9 590.5,464.2 591.9,464.5 593.3,464.8 594.7,465.1 596.1,465.4 597.5,465.7 598.9,465.9 600.3,466.2 601.7,466.4 603.1,466.7 604.5,466.9 605.9,467.1 607.3,467.3 608.7,467.5 610.1,467.7 611.5,467.9 612.9,468.1 614.3,468.3 615.7,468.4 617.1,468.6 618.5,468.8 619.9,468.9 621.3,469.1 622.7,469.2 624.1,469.3 625.5,469.5 626.9,469.6 628.3,469.7 629.7,469.8 631.1,469.9 632.5,470.0 633.9,470.1 635.3,470.2 636.7,470.3 638.1,470.4 639.5,470.4 640.9,470.5 642.3,470.6 643.7,470.6 645.1,470.7 646.5,470.7 647.9,470.8 649.3,470.9 650.7,470.9 652.1,470.9 653.5,471.0 654.9,471.0 656.3,471.1 657.7,471.1 659.1,471.1 660.5,471.2 661.9,471.2 663.3,471.2 664.7,471.2 666.1,471.2 667.5,471.3 668.9,471.3 670.3,471.3 671.7,471.3 673.1,471.4 674.5,471.4 675.9,471.4 677.3,471.4 678.7,471.4 680.1,471.5 681.5,471.5 682.9,471.5 684.3,471.5 685.7,471.6 687.1,471.6 688.5,471.6 689.9,471.6 691.3,471.7 692.7,471.7 694.1,471.7 695.5,471.8 696.9,471.8 698.3,471.8 699.7,471.8 701.1,471.9 702.5,471.9 703.9,471.9 705.3,472.0 706.7,472.0 708.1,472.0 709.5,472.0 710.9,472.1 712.3,472.1 713.7,472.1 715.1,472.2 716.5,472.2 717.9,472.2 719.3,472.3 720.7,472.3 722.1,472.3 723.5,472.4 724.9,472.4 726.3,472.4 727.7,472.5 729.1,472.5 730.5,472.6 731.9,472.6 733.3,472.6 734.7,472.7 736.1,472.7 737.5,472.8 738.9,472.8 740.3,472.9 741.7,472.9 743.1,472.9 744.5,473.0 745.9,473.0 747.3,473.1 748.7,473.1 750.1,473.2 751.5,473.2 752.9,473.3 754.3,473.3 755.7,473.4 757.1,473.4 758.5,473.5 762.5,473.6"/><polyline points="139.5,213.9 142.5,214.2 143.9,214.6 145.3,215.1 146.7,215.7 148.1,216.5 149.5,217.3 150.9,218.2 152.3,219.3 153.7,220.5 155.1,222.0 156.5,223.5 157.9,225.2 159.3,227.0 160.7,228.9 162.1,230.8 163.5,232.8 164.9,235.0 166.3,237.5 167.7,240.0 169.1,242.7 170.5,245.4 171.9,248.3 173.3,251.1 174.7,254.0 176.1,256.7 177.5,259.5 178.9,262.2 180.3,264.8 181.7,267.4 183.1,269.9 184.5,272.4 185.9,274.9 187.3,277.4 188.7,279.8 190.1,282.3 191.5,284.8 192.9,287.2 194.3,289.7 195.7,292.0 197.1,294.3 198.5,296.5 199.9,298.6 201.3,300.7 202.7,302.7 204.1,304.8 205.5,306.8 206.9,308.7 208.3,310.4 209.7,312.0 211.1,313.3 212.5,314.3 213.9,315.1 215.3,315.8 216.7,316.3 218.1,316.7 219.5,317.0 220.9,317.2 222.3,317.3 223.7,317.3 225.1,317.2 226.5,317.2 227.9,317.1 229.3,316.9 230.7,316.6 232.1,316.2 233.5,315.7 234.9,315.1 236.3,314.5 237.7,313.8 239.1,313.0 240.5,312.3 241.9,311.5 243.3,310.8 244.7,310.0 246.1,309.2 247.5,308.4 248.9,307.5 250.3,306.6 251.7,305.7 253.1,304.8 254.5,303.8 255.9,302.9 257.3,301.8 258.7,300.7 260.1,299.6 261.5,298.4 262.9,297.2 264.3,295.9 265.7,294.6 267.1,293.4 268.5,292.1 269.9,290.9 271.3,289.7 272.7,288.5 274.1,287.3 275.5,286.1 276.9,284.9 278.3,283.7 279.7,282.5 281.1,281.4 282.5,280.4 283.9,279.4 285.3,278.4 286.7,277.5 288.1,276.6 289.5,275.8 290.9,274.9 292.3,274.0 293.7,273.2 295.1,272.3 296.5,271.5 297.9,270.8 299.3,270.0 300.7,269.4 302.1,268.7 303.5,268.2 304.9,267.7 306.3,267.2 307.7,266.8 309.1,266.4 310.5,266.1 311.9,265.7 313.3,265.4 314.7,265.2 316.1,264.9 317.5,264.7 318.9,264.5 320.3,264.4 321.7,264.2 323.1,264.1 324.5,263.9 325.9,263.8 327.3,263.7 328.7,263.6 330.1,263.5 331.5,263.4 332.9,263.4 334.3,263.4 335.7,263.5 337.1,263.7 338.5,263.8 339.9,264.0 341.3,264.2 342.7,264.4 344.1,264.7 345.5,265.0 346.9,265.2 348.3,265.6 349.7,265.9 351.1,266.2 352.5,266.6 353.9,266.9 355.3,267.3 356.7,267.7 358.1,268.1 359.5,268.5 360.9,269.0 362.3,269.5 363.7,270.0 365.1,270.6 366.5,271.2 367.9,271.8 369.3,272.4 370.7,273.0 372.1,273.7 373.5,274.4 374.9,275.1 376.3,275.9 377.7,276.7 379.1,277.6 380.5,278.6 381.9,279.5 383.3,280.5 384.7,281.5 386.1,282.6 387.5,283.6 388.9,284.6 390.3,285.7 391.7,286.8 393.1,288.0 394.5,289.2 395.9,290.4 397.3,291.6 398.7,292.9 400.1,294.3 401.5,295.6 402.9,297.0 404.3,298.5 405.7,299.9 407.1,301.4 408.5,303.0 409.9,304.5 411.3,306.1 412.7,307.7 414.1,309.3 415.5,310.9 416.9,312.5 418.3,314.1 419.7,315.8 421.1,317.5 422.5,319.2 423.9,320.8 425.3,322.5 426.7,324.2 428.1,325.9 429.5,327.6 430.9,329.4 432.3,331.1 433.7,332.8 435.1,334.5 436.5,336.2 437.9,337.9 439.3,339.6 440.7,341.3 442.1,343.0 443.5,344.7 444.9,346.4 446.3,348.1 447.7,349.9 449.1,351.6 450.5,353.3 451.9,354.9 453.3,356.5 454.7,358.0 456.1,359.5 457.5,360.9 458.9,362.3 460.3,363.6 461.7,365.0 463.1,366.4 464.5,367.8 465.9,369.2 467.3,370.6 468.7,372.1 470.1,373.6 471.5,375.1 472.9,376.7 474.3,378.2 475.7,379.9 477.1,381.5 478.5,383.1 479.9,384.7 481.3,386.4 482.7,388.0 484.1,389.7 485.5,391.3 486.9,392.9 488.3,394.6 489.7,396.2 491.1,397.7 492.5,399.3 493.9,400.8 495.3,402.3 496.7,403.8 498.1,405.2 499.5,406.7 500.9,408.1 502.3,409.5 503.7,410.8 505.1,412.2 506.5,413.5 507.9,414.8 509.3,416.1 510.7,417.4 512.1,418.6 513.5,419.9 514.9,421.1 516.3,422.3 517.7,423.6 519.1,424.8 520.5,426.0 521.9,427.1 523.3,428.3 524.7,429.4 526.1,430.6 527.5,431.7 528.9,432.8 530.3,433.9 531.7,434.9 533.1,436.0 534.5,437.0 535.9,438.0 537.3,439.0 538.7,439.9 540.1,440.9 541.5,441.8 542.9,442.7 544.3,443.5 545.7,444.4 547.1,445.2 548.5,446.0 549.9,446.8 551.3,447.6 552.7,448.4 554.1,449.1 555.5,449.8 556.9,450.5 558.3,451.2 559.7,451.9 561.1,452.5 562.5,453.2 563.9,453.8 565.3,454.4 566.7,455.0 568.1,455.5 569.5,456.1 570.9,456.6 572.3,457.1 573.7,457.6 575.1,458.1 576.5,458.6 577.9,459.1 579.3,459.5 580.7,460.0 582.1,460.4 583.5,460.8 584.9,461.2 586.3,461.6 587.7,462.0 589.1,462.4 590.5,462.7 591.9,463.0 593.3,463.4 594.7,463.7 596.1,464.0 597.5,464.3 598.9,464.6 600.3,464.9 601.7,465.1 603.1,465.4 604.5,465.6 605.9,465.9 607.3,466.1 608.7,466.3 610.1,466.6 611.5,466.8 612.9,467.0 614.3,467.2 615.7,467.3 617.1,467.5 618.5,467.7 619.9,467.9 621.3,468.0 622.7,468.2 624.1,468.3 625.5,468.5 626.9,468.6 628.3,468.7 629.7,468.9 631.1,469.0 632.5,469.1 633.9,469.2 635.3,469.3 636.7,469.4 638.1,469.4 639.5,469.5 640.9,469.6 642.3,469.7 643.7,469.7 645.1,469.8 646.5,469.9 647.9,469.9 649.3,470.0 650.7,470.0 652.1,470.1 653.5,470.1 654.9,470.2 656.3,470.2 657.7,470.2 659.1,470.3 660.5,470.3 661.9,470.3 663.3,470.3 664.7,470.4 666.1,470.4 667.5,470.4 668.9,470.4 670.3,470.4 671.7,470.4 673.1,470.5 674.5,470.5 675.9,470.5 677.3,470.5 678.7,470.5 680.1,470.6 681.5,470.6 682.9,470.6 684.3,470.6 685.7,470.7 687.1,470.7 688.5,470.7 689.9,470.7 691.3,470.7 692.7,470.8 694.1,470.8 695.5,470.8 696.9,470.8 698.3,470.9 699.7,470.9 701.1,470.9 702.5,470.9 703.9,471.0 705.3,471.0 706.7,471.0 708.1,471.0 709.5,471.1 710.9,471.1 712.3,471.1 713.7,471.2 715.1,471.2 716.5,471.2 717.9,471.2 719.3,471.3 720.7,471.3 722.1,471.3 723.5,471.4 724.9,471.4 726.3,471.4 727.7,471.5 729.1,471.5 730.5,471.5 731.9,471.6 733.3,471.6 734.7,471.6 736.1,471.7 737.5,471.7 738.9,471.8 740.3,471.8 741.7,471.8 743.1,471.9 744.5,471.9 745.9,472.0 747.3,472.0 748.7,472.0 750.1,472.1 751.5,472.1 752.9,472.2 754.3,472.2 755.7,472.3 757.1,472.3 758.5,472.4 762.5,472.5"/><polyline points="139.5,209.3 142.5,209.5 143.9,209.9 145.3,210.4 146.7,211.0 148.1,211.7 149.5,212.5 150.9,213.3 152.3,214.4 153.7,215.6 155.1,217.0 156.5,218.5 157.9,220.1 159.3,221.8 160.7,223.5 162.1,225.3 163.5,227.3 164.9,229.4 166.3,231.7 167.7,234.1 169.1,236.7 170.5,239.3 171.9,242.0 173.3,244.7 174.7,247.5 176.1,250.1 177.5,252.8 178.9,255.4 180.3,257.9 181.7,260.3 183.1,262.7 184.5,265.0 185.9,267.4 187.3,269.7 188.7,272.0 190.1,274.3 191.5,276.6 192.9,278.8 194.3,281.1 195.7,283.3 197.1,285.4 198.5,287.4 199.9,289.3 201.3,291.2 202.7,293.1 204.1,294.9 205.5,296.7 206.9,298.4 208.3,300.0 209.7,301.4 211.1,302.6 212.5,303.4 213.9,304.1 215.3,304.6 216.7,305.0 218.1,305.3 219.5,305.4 220.9,305.4 222.3,305.4 223.7,305.2 225.1,305.1 226.5,304.8 227.9,304.6 229.3,304.2 230.7,303.8 232.1,303.2 233.5,302.5 234.9,301.7 236.3,300.9 237.7,300.0 239.1,299.0 240.5,298.1 241.9,297.2 243.3,296.2 244.7,295.2 246.1,294.2 247.5,293.2 248.9,292.1 250.3,291.0 251.7,289.9 253.1,288.7 254.5,287.6 255.9,286.4 257.3,285.1 258.7,283.9 260.1,282.5 261.5,281.1 262.9,279.7 264.3,278.3 265.7,276.8 267.1,275.4 268.5,274.0 269.9,272.6 271.3,271.2 272.7,269.8 274.1,268.5 275.5,267.1 276.9,265.8 278.3,264.5 279.7,263.2 281.1,262.0 282.5,260.8 283.9,259.6 285.3,258.6 286.7,257.5 288.1,256.5 289.5,255.5 290.9,254.5 292.3,253.5 293.7,252.6 295.1,251.6 296.5,250.7 297.9,249.8 299.3,248.9 300.7,248.1 302.1,247.4 303.5,246.7 304.9,246.1 306.3,245.6 307.7,245.1 309.1,244.6 310.5,244.1 311.9,243.7 313.3,243.3 314.7,242.9 316.1,242.6 317.5,242.3 318.9,242.0 320.3,241.8 321.7,241.6 323.1,241.4 324.5,241.2 325.9,241.0 327.3,240.8 328.7,240.6 330.1,240.5 331.5,240.4 332.9,240.3 334.3,240.3 335.7,240.4 337.1,240.5 338.5,240.7 339.9,240.8 341.3,241.0 342.7,241.3 344.1,241.5 345.5,241.8 346.9,242.1 348.3,242.4 349.7,242.8 351.1,243.1 352.5,243.5 353.9,243.8 355.3,244.2 356.7,244.6 358.1,245.0 359.5,245.5 360.9,246.0 362.3,246.5 363.7,247.1 365.1,247.7 366.5,248.3 367.9,249.0 369.3,249.6 370.7,250.3 372.1,251.0 373.5,251.8 374.9,252.6 376.3,253.4 377.7,254.3 379.1,255.3 380.5,256.4 381.9,257.5 383.3,258.6 384.7,259.7 386.1,260.8 387.5,262.0 388.9,263.1 390.3,264.3 391.7,265.5 393.1,266.8 394.5,268.0 395.9,269.4 397.3,270.7 398.7,272.1 400.1,273.6 401.5,275.0 402.9,276.6 404.3,278.1 405.7,279.7 407.1,281.3 408.5,283.0 409.9,284.7 411.3,286.4 412.7,288.1 414.1,289.8 415.5,291.6 416.9,293.4 418.3,295.1 419.7,297.0 421.1,298.8 422.5,300.6 423.9,302.5 425.3,304.3 426.7,306.2 428.1,308.1 429.5,309.9 430.9,311.8 432.3,313.7 433.7,315.6 435.1,317.5 436.5,319.3 437.9,321.2 439.3,323.1 440.7,325.0 442.1,326.9 443.5,328.8 444.9,330.7 446.3,332.7 447.7,334.7 449.1,336.6 450.5,338.6 451.9,340.4 453.3,342.2 454.7,343.9 456.1,345.6 457.5,347.1 458.9,348.7 460.3,350.2 461.7,351.7 463.1,353.3 464.5,354.8 465.9,356.4 467.3,358.0 468.7,359.6 470.1,361.3 471.5,363.1 472.9,364.8 474.3,366.6 475.7,368.4 477.1,370.3 478.5,372.1 479.9,374.0 481.3,375.9 482.7,377.7 484.1,379.6 485.5,381.5 486.9,383.3 488.3,385.1 489.7,387.0 491.1,388.7 492.5,390.5 493.9,392.2 495.3,393.9 496.7,395.6 498.1,397.2 499.5,398.8 500.9,400.4 502.3,401.9 503.7,403.5 505.1,405.0 506.5,406.5 507.9,407.9 509.3,409.4 510.7,410.8 512.1,412.2 513.5,413.6 514.9,415.0 516.3,416.3 517.7,417.7 519.1,419.0 520.5,420.3 521.9,421.7 523.3,423.0 524.7,424.2 526.1,425.5 527.5,426.8 528.9,428.0 530.3,429.2 531.7,430.4 533.1,431.5 534.5,432.7 535.9,433.8 537.3,434.9 538.7,436.0 540.1,437.0 541.5,438.1 542.9,439.1 544.3,440.0 545.7,441.0 547.1,441.9 548.5,442.8 549.9,443.7 551.3,444.6 552.7,445.4 554.1,446.2 555.5,447.0 556.9,447.8 558.3,448.6 559.7,449.3 561.1,450.1 562.5,450.8 563.9,451.4 565.3,452.1 566.7,452.8 568.1,453.4 569.5,454.0 570.9,454.6 572.3,455.2 573.7,455.7 575.1,456.3 576.5,456.8 577.9,457.3 579.3,457.8 580.7,458.3 582.1,458.8 583.5,459.2 584.9,459.7 586.3,460.1 587.7,460.5 589.1,460.9 590.5,461.3 591.9,461.7 593.3,462.0 594.7,462.4 596.1,462.7 597.5,463.0 598.9,463.3 600.3,463.6 601.7,463.9 603.1,464.2 604.5,464.5 605.9,464.7 607.3,465.0 608.7,465.2 610.1,465.5 611.5,465.7 612.9,465.9 614.3,466.1 615.7,466.3 617.1,466.5 618.5,466.7 619.9,466.9 621.3,467.1 622.7,467.2 624.1,467.4 625.5,467.5 626.9,467.7 628.3,467.8 629.7,468.0 631.1,468.1 632.5,468.2 633.9,468.3 635.3,468.4 636.7,468.5 638.1,468.6 639.5,468.7 640.9,468.8 642.3,468.9 643.7,468.9 645.1,469.0 646.5,469.1 647.9,469.1 649.3,469.2 650.7,469.2 652.1,469.3 653.5,469.3 654.9,469.4 656.3,469.4 657.7,469.5 659.1,469.5 660.5,469.5 661.9,469.5 663.3,469.5 664.7,469.6 666.1,469.6 667.5,469.6 668.9,469.6 670.3,469.6 671.7,469.6 673.1,469.6 674.5,469.7 675.9,469.7 677.3,469.7 678.7,469.7 680.1,469.7 681.5,469.7 682.9,469.8 684.3,469.8 685.7,469.8 687.1,469.8 688.5,469.8 689.9,469.9 691.3,469.9 692.7,469.9 694.1,469.9 695.5,470.0 696.9,470.0 698.3,470.0 699.7,470.0 701.1,470.0 702.5,470.1 703.9,470.1 705.3,470.1 706.7,470.1 708.1,470.2 709.5,470.2 710.9,470.2 712.3,470.2 713.7,470.3 715.1,470.3 716.5,470.3 717.9,470.3 719.3,470.4 720.7,470.4 722.1,470.4 723.5,470.4 724.9,470.5 726.3,470.5 727.7,470.5 729.1,470.6 730.5,470.6 731.9,470.6 733.3,470.6 734.7,470.7 736.1,470.7 737.5,470.7 738.9,470.8 740.3,470.8 741.7,470.9 743.1,470.9 744.5,470.9 745.9,471.0 747.3,471.0 748.7,471.0 750.1,471.1 751.5,471.1 752.9,471.2 754.3,471.2 755.7,471.2 757.1,471.3 758.5,471.3 762.5,471.5"/><polyline points="139.5,205.2 142.5,205.4 143.9,205.8 145.3,206.3 146.7,206.9 148.1,207.6 149.5,208.3 150.9,209.1 152.3,210.1 153.7,211.3 155.1,212.6 156.5,214.1 157.9,215.6 159.3,217.2 160.7,218.9 162.1,220.6 163.5,222.5 164.9,224.5 166.3,226.7 167.7,229.0 169.1,231.4 170.5,233.9 171.9,236.5 173.3,239.2 174.7,241.8 176.1,244.4 177.5,247.0 178.9,249.5 180.3,251.8 181.7,254.1 183.1,256.4 184.5,258.6 185.9,260.8 187.3,263.0 188.7,265.1 190.1,267.3 191.5,269.4 192.9,271.5 194.3,273.6 195.7,275.7 197.1,277.6 198.5,279.5 199.9,281.2 201.3,282.9 202.7,284.6 204.1,286.3 205.5,287.9 206.9,289.5 208.3,290.9 209.7,292.1 211.1,293.2 212.5,294.0 213.9,294.6 215.3,295.0 216.7,295.2 218.1,295.3 219.5,295.3 220.9,295.2 222.3,295.1 223.7,294.8 225.1,294.5 226.5,294.1 227.9,293.7 229.3,293.3 230.7,292.6 232.1,291.9 233.5,291.0 234.9,290.1 236.3,289.1 237.7,288.0 239.1,286.9 240.5,285.8 241.9,284.6 243.3,283.5 244.7,282.4 246.1,281.2 247.5,280.0 248.9,278.7 250.3,277.4 251.7,276.1 253.1,274.7 254.5,273.4 255.9,272.0 257.3,270.6 258.7,269.2 260.1,267.7 261.5,266.1 262.9,264.5 264.3,262.9 265.7,261.3 267.1,259.7 268.5,258.2 269.9,256.6 271.3,255.1 272.7,253.6 274.1,252.1 275.5,250.7 276.9,249.2 278.3,247.8 279.7,246.4 281.1,245.0 282.5,243.7 283.9,242.5 285.3,241.3 286.7,240.1 288.1,239.0 289.5,237.9 290.9,236.8 292.3,235.7 293.7,234.6 295.1,233.5 296.5,232.5 297.9,231.5 299.3,230.6 300.7,229.7 302.1,228.8 303.5,228.1 304.9,227.4 306.3,226.7 307.7,226.1 309.1,225.5 310.5,225.0 311.9,224.5 313.3,224.0 314.7,223.6 316.1,223.2 317.5,222.8 318.9,222.5 320.3,222.2 321.7,221.9 323.1,221.6 324.5,221.4 325.9,221.1 327.3,220.9 328.7,220.7 330.1,220.5 331.5,220.4 332.9,220.3 334.3,220.2 335.7,220.3 337.1,220.4 338.5,220.5 339.9,220.7 341.3,220.9 342.7,221.1 344.1,221.4 345.5,221.7 346.9,222.0 348.3,222.3 349.7,222.6 351.1,223.0 352.5,223.4 353.9,223.7 355.3,224.1 356.7,224.5 358.1,225.0 359.5,225.5 360.9,226.0 362.3,226.5 363.7,227.1 365.1,227.8 366.5,228.4 367.9,229.1 369.3,229.8 370.7,230.6 372.1,231.3 373.5,232.1 374.9,232.9 376.3,233.9 377.7,234.9 379.1,236.0 380.5,237.1 381.9,238.3 383.3,239.5 384.7,240.7 386.1,241.9 387.5,243.1 388.9,244.4 390.3,245.7 391.7,247.0 393.1,248.3 394.5,249.7 395.9,251.1 397.3,252.5 398.7,254.0 400.1,255.6 401.5,257.1 402.9,258.8 404.3,260.4 405.7,262.1 407.1,263.8 408.5,265.6 409.9,267.4 411.3,269.2 412.7,271.1 414.1,272.9 415.5,274.8 416.9,276.7 418.3,278.6 419.7,280.6 421.1,282.5 422.5,284.5 423.9,286.5 425.3,288.5 426.7,290.5 428.1,292.5 429.5,294.5 430.9,296.5 432.3,298.6 433.7,300.6 435.1,302.6 436.5,304.7 437.9,306.7 439.3,308.8 440.7,310.9 442.1,312.9 443.5,315.0 444.9,317.1 446.3,319.3 447.7,321.5 449.1,323.6 450.5,325.7 451.9,327.8 453.3,329.8 454.7,331.7 456.1,333.4 457.5,335.2 458.9,336.9 460.3,338.5 461.7,340.2 463.1,341.8 464.5,343.5 465.9,345.3 467.3,347.0 468.7,348.8 470.1,350.7 471.5,352.6 472.9,354.5 474.3,356.5 475.7,358.5 477.1,360.5 478.5,362.6 479.9,364.6 481.3,366.7 482.7,368.8 484.1,370.8 485.5,372.9 486.9,374.9 488.3,377.0 489.7,379.0 491.1,380.9 492.5,382.9 493.9,384.8 495.3,386.6 496.7,388.4 498.1,390.2 499.5,392.0 500.9,393.7 502.3,395.4 503.7,397.1 505.1,398.7 506.5,400.3 507.9,401.9 509.3,403.5 510.7,405.0 512.1,406.6 513.5,408.1 514.9,409.6 516.3,411.1 517.7,412.5 519.1,414.0 520.5,415.5 521.9,416.9 523.3,418.3 524.7,419.7 526.1,421.1 527.5,422.5 528.9,423.8 530.3,425.1 531.7,426.4 533.1,427.7 534.5,428.9 535.9,430.2 537.3,431.4 538.7,432.6 540.1,433.7 541.5,434.8 542.9,435.9 544.3,437.0 545.7,438.0 547.1,439.0 548.5,440.0 549.9,441.0 551.3,441.9 552.7,442.9 554.1,443.8 555.5,444.6 556.9,445.5 558.3,446.3 559.7,447.1 561.1,447.9 562.5,448.7 563.9,449.4 565.3,450.1 566.7,450.8 568.1,451.5 569.5,452.2 570.9,452.8 572.3,453.5 573.7,454.1 575.1,454.7 576.5,455.2 577.9,455.8 579.3,456.3 580.7,456.8 582.1,457.4 583.5,457.8 584.9,458.3 586.3,458.8 587.7,459.2 589.1,459.6 590.5,460.1 591.9,460.5 593.3,460.8 594.7,461.2 596.1,461.6 597.5,461.9 598.9,462.3 600.3,462.6 601.7,462.9 603.1,463.2 604.5,463.5 605.9,463.8 607.3,464.0 608.7,464.3 610.1,464.5 611.5,464.8 612.9,465.0 614.3,465.2 615.7,465.4 617.1,465.7 618.5,465.9 619.9,466.0 621.3,466.2 622.7,466.4 624.1,466.6 625.5,466.7 626.9,466.9 628.3,467.1 629.7,467.2 631.1,467.3 632.5,467.4 633.9,467.6 635.3,467.7 636.7,467.8 638.1,467.9 639.5,468.0 640.9,468.1 642.3,468.1 643.7,468.2 645.1,468.3 646.5,468.4 647.9,468.4 649.3,468.5 650.7,468.6 652.1,468.6 653.5,468.7 654.9,468.7 656.3,468.7 657.7,468.8 659.1,468.8 660.5,468.8 661.9,468.8 663.3,468.8 664.7,468.9 666.1,468.9 667.5,468.9 668.9,468.9 670.3,468.9 671.7,468.9 673.1,468.9 674.5,468.9 675.9,468.9 677.3,469.0 678.7,469.0 680.1,469.0 681.5,469.0 682.9,469.0 684.3,469.0 685.7,469.1 687.1,469.1 688.5,469.1 689.9,469.1 691.3,469.1 692.7,469.2 694.1,469.2 695.5,469.2 696.9,469.2 698.3,469.2 699.7,469.3 701.1,469.3 702.5,469.3 703.9,469.3 705.3,469.3 706.7,469.4 708.1,469.4 709.5,469.4 710.9,469.4 712.3,469.4 713.7,469.5 715.1,469.5 716.5,469.5 717.9,469.5 719.3,469.6 720.7,469.6 722.1,469.6 723.5,469.6 724.9,469.7 726.3,469.7 727.7,469.7 729.1,469.7 730.5,469.8 731.9,469.8 733.3,469.8 734.7,469.8 736.1,469.9 737.5,469.9 738.9,469.9 740.3,470.0 741.7,470.0 743.1,470.0 744.5,470.1 745.9,470.1 747.3,470.1 748.7,470.2 750.1,470.2 751.5,470.2 752.9,470.3 754.3,470.3 755.7,470.4 757.1,470.4 758.5,470.4 762.5,470.5"/><polyline points="139.5,201.5 142.5,201.8 143.9,202.1 145.3,202.6 146.7,203.2 148.1,203.8 149.5,204.6 150.9,205.4 152.3,206.3 153.7,207.5 155.1,208.7 156.5,210.1 157.9,211.6 159.3,213.1 160.7,214.7 162.1,216.4 163.5,218.2 164.9,220.1 166.3,222.2 167.7,224.4 169.1,226.7 170.5,229.1 171.9,231.6 173.3,234.2 174.7,236.7 176.1,239.3 177.5,241.8 178.9,244.2 180.3,246.4 181.7,248.6 183.1,250.8 184.5,252.9 185.9,254.9 187.3,257.0 188.7,259.0 190.1,261.0 191.5,263.0 192.9,265.0 194.3,266.9 195.7,268.8 197.1,270.7 198.5,272.4 199.9,274.0 201.3,275.5 202.7,277.1 204.1,278.6 205.5,280.1 206.9,281.5 208.3,282.8 209.7,283.9 211.1,284.8 212.5,285.5 213.9,286.0 215.3,286.3 216.7,286.4 218.1,286.4 219.5,286.3 220.9,286.1 222.3,285.8 223.7,285.4 225.1,285.0 226.5,284.5 227.9,284.0 229.3,283.4 230.7,282.7 232.1,281.8 233.5,280.8 234.9,279.7 236.3,278.5 237.7,277.3 239.1,276.0 240.5,274.7 241.9,273.4 243.3,272.2 244.7,270.9 246.1,269.5 247.5,268.1 248.9,266.7 250.3,265.2 251.7,263.7 253.1,262.2 254.5,260.7 255.9,259.2 257.3,257.6 258.7,256.0 260.1,254.4 261.5,252.7 262.9,250.9 264.3,249.2 265.7,247.5 267.1,245.7 268.5,244.0 269.9,242.3 271.3,240.7 272.7,239.1 274.1,237.5 275.5,235.9 276.9,234.3 278.3,232.8 279.7,231.3 281.1,229.9 282.5,228.5 283.9,227.1 285.3,225.8 286.7,224.6 288.1,223.3 289.5,222.1 290.9,220.9 292.3,219.7 293.7,218.5 295.1,217.4 296.5,216.3 297.9,215.2 299.3,214.1 300.7,213.1 302.1,212.2 303.5,211.3 304.9,210.6 306.3,209.9 307.7,209.2 309.1,208.5 310.5,207.9 311.9,207.3 313.3,206.7 314.7,206.2 316.1,205.7 317.5,205.3 318.9,204.9 320.3,204.6 321.7,204.3 323.1,204.0 324.5,203.6 325.9,203.3 327.3,203.1 328.7,202.8 330.1,202.6 331.5,202.4 332.9,202.3 334.3,202.2 335.7,202.3 337.1,202.4 338.5,202.5 339.9,202.7 341.3,202.9 342.7,203.1 344.1,203.4 345.5,203.6 346.9,204.0 348.3,204.3 349.7,204.6 351.1,205.0 352.5,205.4 353.9,205.8 355.3,206.1 356.7,206.6 358.1,207.0 359.5,207.5 360.9,208.1 362.3,208.6 363.7,209.3 365.1,209.9 366.5,210.6 367.9,211.3 369.3,212.1 370.7,212.9 372.1,213.7 373.5,214.5 374.9,215.4 376.3,216.4 377.7,217.4 379.1,218.6 380.5,219.8 381.9,221.1 383.3,222.4 384.7,223.7 386.1,225.0 387.5,226.3 388.9,227.6 390.3,229.0 391.7,230.3 393.1,231.8 394.5,233.2 395.9,234.7 397.3,236.2 398.7,237.8 400.1,239.4 401.5,241.1 402.9,242.8 404.3,244.6 405.7,246.3 407.1,248.2 408.5,250.0 409.9,251.9 411.3,253.9 412.7,255.8 414.1,257.8 415.5,259.8 416.9,261.8 418.3,263.8 419.7,265.9 421.1,267.9 422.5,270.0 423.9,272.1 425.3,274.3 426.7,276.4 428.1,278.5 429.5,280.7 430.9,282.9 432.3,285.0 433.7,287.2 435.1,289.4 436.5,291.6 437.9,293.8 439.3,296.0 440.7,298.2 442.1,300.4 443.5,302.7 444.9,304.9 446.3,307.3 447.7,309.6 449.1,312.0 450.5,314.3 451.9,316.5 453.3,318.6 454.7,320.7 456.1,322.6 457.5,324.5 458.9,326.3 460.3,328.1 461.7,329.8 463.1,331.6 464.5,333.4 465.9,335.3 467.3,337.2 468.7,339.1 470.1,341.2 471.5,343.2 472.9,345.3 474.3,347.4 475.7,349.6 477.1,351.8 478.5,354.0 479.9,356.2 481.3,358.5 482.7,360.7 484.1,363.0 485.5,365.2 486.9,367.4 488.3,369.6 489.7,371.8 491.1,373.9 492.5,376.0 493.9,378.1 495.3,380.1 496.7,382.0 498.1,384.0 499.5,385.9 500.9,387.7 502.3,389.5 503.7,391.3 505.1,393.1 506.5,394.8 507.9,396.5 509.3,398.2 510.7,399.9 512.1,401.5 513.5,403.2 514.9,404.8 516.3,406.4 517.7,408.0 519.1,409.5 520.5,411.1 521.9,412.6 523.3,414.2 524.7,415.7 526.1,417.2 527.5,418.6 528.9,420.1 530.3,421.5 531.7,422.9 533.1,424.3 534.5,425.6 535.9,426.9 537.3,428.2 538.7,429.5 540.1,430.7 541.5,431.9 542.9,433.1 544.3,434.3 545.7,435.4 547.1,436.5 548.5,437.5 549.9,438.6 551.3,439.6 552.7,440.6 554.1,441.5 555.5,442.5 556.9,443.4 558.3,444.3 559.7,445.1 561.1,446.0 562.5,446.8 563.9,447.6 565.3,448.4 566.7,449.1 568.1,449.9 569.5,450.6 570.9,451.3 572.3,451.9 573.7,452.6 575.1,453.2 576.5,453.8 577.9,454.4 579.3,455.0 580.7,455.5 582.1,456.1 583.5,456.6 584.9,457.1 586.3,457.6 587.7,458.1 589.1,458.5 590.5,459.0 591.9,459.4 593.3,459.8 594.7,460.2 596.1,460.6 597.5,460.9 598.9,461.3 600.3,461.6 601.7,462.0 603.1,462.3 604.5,462.6 605.9,462.9 607.3,463.2 608.7,463.4 610.1,463.7 611.5,464.0 612.9,464.2 614.3,464.4 615.7,464.7 617.1,464.9 618.5,465.1 619.9,465.3 621.3,465.5 622.7,465.7 624.1,465.9 625.5,466.0 626.9,466.2 628.3,466.4 629.7,466.5 631.1,466.6 632.5,466.8 633.9,466.9 635.3,467.0 636.7,467.1 638.1,467.2 639.5,467.3 640.9,467.4 642.3,467.5 643.7,467.6 645.1,467.7 646.5,467.7 647.9,467.8 649.3,467.9 650.7,467.9 652.1,468.0 653.5,468.0 654.9,468.1 656.3,468.1 657.7,468.1 659.1,468.2 660.5,468.2 661.9,468.2 663.3,468.2 664.7,468.2 666.1,468.2 667.5,468.3 668.9,468.3 670.3,468.3 671.7,468.3 673.1,468.3 674.5,468.3 675.9,468.3 677.3,468.3 678.7,468.3 680.1,468.3 681.5,468.4 682.9,468.4 684.3,468.4 685.7,468.4 687.1,468.4 688.5,468.4 689.9,468.5 691.3,468.5 692.7,468.5 694.1,468.5 695.5,468.5 696.9,468.5 698.3,468.6 699.7,468.6 701.1,468.6 702.5,468.6 703.9,468.6 705.3,468.6 706.7,468.7 708.1,468.7 709.5,468.7 710.9,468.7 712.3,468.7 713.7,468.8 715.1,468.8 716.5,468.8 717.9,468.8 719.3,468.8 720.7,468.9 722.1,468.9 723.5,468.9 724.9,468.9 726.3,469.0 727.7,469.0 729.1,469.0 730.5,469.0 731.9,469.0 733.3,469.1 734.7,469.1 736.1,469.1 737.5,469.2 738.9,469.2 740.3,469.2 741.7,469.2 743.1,469.3 744.5,469.3 745.9,469.3 747.3,469.4 748.7,469.4 750.1,469.4 751.5,469.5 752.9,469.5 754.3,469.5 755.7,469.6 757.1,469.6 758.5,469.6 762.5,469.7"/><polyline points="139.5,197.3 142.5,197.6 143.9,197.9 145.3,198.4 146.7,198.9 148.1,199.5 149.5,200.2 150.9,201.0 152.3,201.9 153.7,203.0 155.1,204.2 156.5,205.5 157.9,206.9 159.3,208.4 160.7,209.9 162.1,211.5 163.5,213.2 164.9,215.0 166.3,217.0 167.7,219.1 169.1,221.3 170.5,223.5 171.9,225.9 173.3,228.4 174.7,230.9 176.1,233.3 177.5,235.7 178.9,238.0 180.3,240.2 181.7,242.2 183.1,244.2 184.5,246.2 185.9,248.1 187.3,250.0 188.7,251.9 190.1,253.7 191.5,255.6 192.9,257.4 194.3,259.2 195.7,260.9 197.1,262.6 198.5,264.1 199.9,265.6 201.3,266.9 202.7,268.3 204.1,269.7 205.5,271.0 206.9,272.2 208.3,273.3 209.7,274.3 211.1,275.1 212.5,275.7 213.9,276.1 215.3,276.2 216.7,276.2 218.1,276.1 219.5,275.9 220.9,275.5 222.3,275.1 223.7,274.5 225.1,274.0 226.5,273.4 227.9,272.8 229.3,272.0 230.7,271.1 232.1,270.0 233.5,268.9 234.9,267.6 236.3,266.2 237.7,264.8 239.1,263.3 240.5,261.9 241.9,260.4 243.3,259.0 244.7,257.5 246.1,256.0 247.5,254.4 248.9,252.7 250.3,251.1 251.7,249.4 253.1,247.7 254.5,246.0 255.9,244.3 257.3,242.5 258.7,240.7 260.1,238.9 261.5,237.1 262.9,235.2 264.3,233.3 265.7,231.3 267.1,229.4 268.5,227.6 269.9,225.7 271.3,223.9 272.7,222.2 274.1,220.4 275.5,218.7 276.9,217.1 278.3,215.4 279.7,213.8 281.1,212.3 282.5,210.7 283.9,209.3 285.3,207.9 286.7,206.5 288.1,205.1 289.5,203.8 290.9,202.5 292.3,201.2 293.7,199.9 295.1,198.6 296.5,197.4 297.9,196.2 299.3,195.0 300.7,193.9 302.1,192.9 303.5,191.9 304.9,191.1 306.3,190.3 307.7,189.5 309.1,188.7 310.5,188.0 311.9,187.3 313.3,186.7 314.7,186.1 316.1,185.5 317.5,185.0 318.9,184.6 320.3,184.2 321.7,183.8 323.1,183.4 324.5,183.1 325.9,182.7 327.3,182.4 328.7,182.0 330.1,181.8 331.5,181.6 332.9,181.4 334.3,181.3 335.7,181.3 337.1,181.4 338.5,181.5 339.9,181.7 341.3,181.9 342.7,182.1 344.1,182.4 345.5,182.7 346.9,183.0 348.3,183.4 349.7,183.7 351.1,184.1 352.5,184.5 353.9,184.9 355.3,185.3 356.7,185.7 358.1,186.2 359.5,186.7 360.9,187.2 362.3,187.9 363.7,188.5 365.1,189.2 366.5,189.9 367.9,190.7 369.3,191.5 370.7,192.3 372.1,193.2 373.5,194.1 374.9,195.0 376.3,196.0 377.7,197.2 379.1,198.4 380.5,199.7 381.9,201.1 383.3,202.5 384.7,203.9 386.1,205.3 387.5,206.7 388.9,208.1 390.3,209.6 391.7,211.0 393.1,212.6 394.5,214.1 395.9,215.7 397.3,217.3 398.7,219.0 400.1,220.7 401.5,222.5 402.9,224.3 404.3,226.1 405.7,228.0 407.1,230.0 408.5,232.0 409.9,234.0 411.3,236.0 412.7,238.1 414.1,240.2 415.5,242.3 416.9,244.4 418.3,246.6 419.7,248.8 421.1,251.0 422.5,253.3 423.9,255.5 425.3,257.8 426.7,260.1 428.1,262.4 429.5,264.7 430.9,267.0 432.3,269.3 433.7,271.6 435.1,274.0 436.5,276.4 437.9,278.7 439.3,281.1 440.7,283.5 442.1,285.9 443.5,288.3 444.9,290.8 446.3,293.3 447.7,295.9 449.1,298.4 450.5,300.9 451.9,303.4 453.3,305.7 454.7,307.9 456.1,310.0 457.5,312.0 458.9,314.0 460.3,315.9 461.7,317.8 463.1,319.8 464.5,321.7 465.9,323.7 467.3,325.8 468.7,327.9 470.1,330.1 471.5,332.3 472.9,334.6 474.3,336.9 475.7,339.3 477.1,341.6 478.5,344.1 479.9,346.5 481.3,349.0 482.7,351.4 484.1,353.9 485.5,356.3 486.9,358.7 488.3,361.1 489.7,363.5 491.1,365.8 492.5,368.1 493.9,370.3 495.3,372.5 496.7,374.6 498.1,376.7 499.5,378.8 500.9,380.8 502.3,382.7 503.7,384.7 505.1,386.6 506.5,388.5 507.9,390.3 509.3,392.1 510.7,393.9 512.1,395.7 513.5,397.5 514.9,399.2 516.3,400.9 517.7,402.6 519.1,404.3 520.5,406.0 521.9,407.7 523.3,409.3 524.7,411.0 526.1,412.6 527.5,414.2 528.9,415.7 530.3,417.3 531.7,418.8 533.1,420.3 534.5,421.7 535.9,423.1 537.3,424.5 538.7,425.9 540.1,427.3 541.5,428.6 542.9,429.8 544.3,431.1 545.7,432.3 547.1,433.5 548.5,434.6 549.9,435.8 551.3,436.9 552.7,437.9 554.1,439.0 555.5,440.0 556.9,441.0 558.3,441.9 559.7,442.9 561.1,443.8 562.5,444.6 563.9,445.5 565.3,446.3 566.7,447.1 568.1,447.9 569.5,448.7 570.9,449.4 572.3,450.2 573.7,450.9 575.1,451.5 576.5,452.2 577.9,452.8 579.3,453.4 580.7,454.0 582.1,454.6 583.5,455.2 584.9,455.7 586.3,456.2 587.7,456.7 589.1,457.2 590.5,457.7 591.9,458.1 593.3,458.6 594.7,459.0 596.1,459.4 597.5,459.8 598.9,460.2 600.3,460.5 601.7,460.9 603.1,461.2 604.5,461.5 605.9,461.9 607.3,462.2 608.7,462.5 610.1,462.7 611.5,463.0 612.9,463.3 614.3,463.5 615.7,463.7 617.1,464.0 618.5,464.2 619.9,464.4 621.3,464.6 622.7,464.8 624.1,465.0 625.5,465.2 626.9,465.4 628.3,465.5 629.7,465.7 631.1,465.9 632.5,466.0 633.9,466.1 635.3,466.2 636.7,466.3 638.1,466.5 639.5,466.6 640.9,466.7 642.3,466.8 643.7,466.8 645.1,466.9 646.5,467.0 647.9,467.1 649.3,467.1 650.7,467.2 652.1,467.3 653.5,467.3 654.9,467.4 656.3,467.4 657.7,467.4 659.1,467.5 660.5,467.5 661.9,467.5 663.3,467.5 664.7,467.5 666.1,467.5 667.5,467.5 668.9,467.5 670.3,467.5 671.7,467.5 673.1,467.5 674.5,467.5 675.9,467.6 677.3,467.6 678.7,467.6 680.1,467.6 681.5,467.6 682.9,467.6 684.3,467.6 685.7,467.6 687.1,467.6 688.5,467.7 689.9,467.7 691.3,467.7 692.7,467.7 694.1,467.7 695.5,467.7 696.9,467.8 698.3,467.8 699.7,467.8 701.1,467.8 702.5,467.8 703.9,467.8 705.3,467.8 706.7,467.9 708.1,467.9 709.5,467.9 710.9,467.9 712.3,467.9 713.7,467.9 715.1,468.0 716.5,468.0 717.9,468.0 719.3,468.0 720.7,468.0 722.1,468.0 723.5,468.1 724.9,468.1 726.3,468.1 727.7,468.1 729.1,468.1 730.5,468.2 731.9,468.2 733.3,468.2 734.7,468.2 736.1,468.3 737.5,468.3 738.9,468.3 740.3,468.3 741.7,468.4 743.1,468.4 744.5,468.4 745.9,468.4 747.3,468.5 748.7,468.5 750.1,468.5 751.5,468.5 752.9,468.6 754.3,468.6 755.7,468.6 757.1,468.6 758.5,468.7 762.5,468.8"/><polyline points="139.5,193.1 142.5,193.4 143.9,193.8 145.3,194.2 146.7,194.7 148.1,195.3 149.5,196.0 150.9,196.7 152.3,197.6 153.7,198.6 155.1,199.8 156.5,201.0 157.9,202.4 159.3,203.7 160.7,205.2 162.1,206.7 163.5,208.3 164.9,210.0 166.3,211.9 167.7,213.9 169.1,215.9 170.5,218.1 171.9,220.3 173.3,222.7 174.7,225.1 176.1,227.5 177.5,229.8 178.9,232.0 180.3,234.0 181.7,236.0 183.1,237.9 184.5,239.7 185.9,241.5 187.3,243.2 188.7,244.9 190.1,246.6 191.5,248.3 192.9,250.0 194.3,251.6 195.7,253.2 197.1,254.7 198.5,256.1 199.9,257.4 201.3,258.6 202.7,259.8 204.1,260.9 205.5,262.1 206.9,263.1 208.3,264.1 209.7,264.9 211.1,265.6 212.5,266.1 213.9,266.3 215.3,266.4 216.7,266.3 218.1,266.0 219.5,265.7 220.9,265.2 222.3,264.6 223.7,263.9 225.1,263.2 226.5,262.5 227.9,261.8 229.3,260.8 230.7,259.8 232.1,258.6 233.5,257.2 234.9,255.8 236.3,254.2 237.7,252.6 239.1,251.0 240.5,249.4 241.9,247.7 243.3,246.1 244.7,244.4 246.1,242.7 247.5,240.9 248.9,239.1 250.3,237.3 251.7,235.4 253.1,233.5 254.5,231.6 255.9,229.7 257.3,227.8 258.7,225.8 260.1,223.8 261.5,221.8 262.9,219.8 264.3,217.7 265.7,215.6 267.1,213.6 268.5,211.5 269.9,209.5 271.3,207.6 272.7,205.7 274.1,203.8 275.5,202.0 276.9,200.2 278.3,198.5 279.7,196.7 281.1,195.1 282.5,193.4 283.9,191.8 285.3,190.3 286.7,188.8 288.1,187.4 289.5,185.9 290.9,184.5 292.3,183.1 293.7,181.7 295.1,180.3 296.5,178.9 297.9,177.6 299.3,176.4 300.7,175.2 302.1,174.0 303.5,173.0 304.9,172.0 306.3,171.1 307.7,170.3 309.1,169.4 310.5,168.6 311.9,167.8 313.3,167.1 314.7,166.4 316.1,165.8 317.5,165.2 318.9,164.7 320.3,164.3 321.7,163.8 323.1,163.4 324.5,163.0 325.9,162.5 327.3,162.1 328.7,161.8 330.1,161.5 331.5,161.2 332.9,161.0 334.3,160.9 335.7,160.9 337.1,161.0 338.5,161.1 339.9,161.3 341.3,161.5 342.7,161.7 344.1,162.0 345.5,162.3 346.9,162.6 348.3,162.9 349.7,163.3 351.1,163.7 352.5,164.1 353.9,164.5 355.3,164.9 356.7,165.3 358.1,165.8 359.5,166.3 360.9,166.9 362.3,167.6 363.7,168.3 365.1,169.0 366.5,169.7 367.9,170.5 369.3,171.4 370.7,172.3 372.1,173.2 373.5,174.1 374.9,175.1 376.3,176.2 377.7,177.4 379.1,178.7 380.5,180.2 381.9,181.6 383.3,183.1 384.7,184.6 386.1,186.1 387.5,187.6 388.9,189.1 390.3,190.7 391.7,192.2 393.1,193.8 394.5,195.4 395.9,197.1 397.3,198.8 398.7,200.6 400.1,202.4 401.5,204.3 402.9,206.2 404.3,208.2 405.7,210.2 407.1,212.2 408.5,214.3 409.9,216.5 411.3,218.6 412.7,220.8 414.1,223.0 415.5,225.3 416.9,227.5 418.3,229.8 419.7,232.2 421.1,234.5 422.5,236.9 423.9,239.3 425.3,241.7 426.7,244.1 428.1,246.6 429.5,249.0 430.9,251.5 432.3,254.0 433.7,256.5 435.1,259.0 436.5,261.5 437.9,264.0 439.3,266.6 440.7,269.1 442.1,271.7 443.5,274.3 444.9,277.0 446.3,279.7 447.7,282.5 449.1,285.2 450.5,287.9 451.9,290.6 453.3,293.1 454.7,295.5 456.1,297.7 457.5,299.9 458.9,302.0 460.3,304.0 461.7,306.1 463.1,308.2 464.5,310.3 465.9,312.4 467.3,314.6 468.7,316.9 470.1,319.3 471.5,321.7 472.9,324.1 474.3,326.6 475.7,329.2 477.1,331.8 478.5,334.4 479.9,337.0 481.3,339.7 482.7,342.3 484.1,345.0 485.5,347.6 486.9,350.2 488.3,352.8 489.7,355.3 491.1,357.9 492.5,360.3 493.9,362.7 495.3,365.1 496.7,367.4 498.1,369.6 499.5,371.8 500.9,374.0 502.3,376.1 503.7,378.2 505.1,380.2 506.5,382.3 507.9,384.2 509.3,386.2 510.7,388.1 512.1,390.0 513.5,391.9 514.9,393.8 516.3,395.6 517.7,397.4 519.1,399.3 520.5,401.1 521.9,402.9 523.3,404.6 524.7,406.4 526.1,408.1 527.5,409.8 528.9,411.5 530.3,413.1 531.7,414.8 533.1,416.4 534.5,417.9 535.9,419.5 537.3,421.0 538.7,422.4 540.1,423.9 541.5,425.3 542.9,426.7 544.3,428.0 545.7,429.3 547.1,430.6 548.5,431.8 549.9,433.0 551.3,434.2 552.7,435.3 554.1,436.4 555.5,437.5 556.9,438.6 558.3,439.6 559.7,440.6 561.1,441.6 562.5,442.5 563.9,443.4 565.3,444.3 566.7,445.2 568.1,446.0 569.5,446.9 570.9,447.6 572.3,448.4 573.7,449.2 575.1,449.9 576.5,450.6 577.9,451.3 579.3,451.9 580.7,452.5 582.1,453.2 583.5,453.8 584.9,454.3 586.3,454.9 587.7,455.4 589.1,455.9 590.5,456.4 591.9,456.9 593.3,457.4 594.7,457.8 596.1,458.3 597.5,458.7 598.9,459.1 600.3,459.5 601.7,459.8 603.1,460.2 604.5,460.5 605.9,460.9 607.3,461.2 608.7,461.5 610.1,461.8 611.5,462.1 612.9,462.3 614.3,462.6 615.7,462.9 617.1,463.1 618.5,463.3 619.9,463.6 621.3,463.8 622.7,464.0 624.1,464.2 625.5,464.4 626.9,464.6 628.3,464.8 629.7,464.9 631.1,465.1 632.5,465.2 633.9,465.4 635.3,465.5 636.7,465.6 638.1,465.7 639.5,465.8 640.9,465.9 642.3,466.0 643.7,466.1 645.1,466.2 646.5,466.3 647.9,466.4 649.3,466.4 650.7,466.5 652.1,466.6 653.5,466.6 654.9,466.7 656.3,466.7 657.7,466.7 659.1,466.7 660.5,466.8 661.9,466.8 663.3,466.8 664.7,466.8 666.1,466.8 667.5,466.8 668.9,466.8 670.3,466.8 671.7,466.8 673.1,466.8 674.5,466.8 675.9,466.8 677.3,466.8 678.7,466.8 680.1,466.8 681.5,466.8 682.9,466.9 684.3,466.9 685.7,466.9 687.1,466.9 688.5,466.9 689.9,466.9 691.3,466.9 692.7,466.9 694.1,467.0 695.5,467.0 696.9,467.0 698.3,467.0 699.7,467.0 701.1,467.0 702.5,467.0 703.9,467.0 705.3,467.1 706.7,467.1 708.1,467.1 709.5,467.1 710.9,467.1 712.3,467.1 713.7,467.1 715.1,467.2 716.5,467.2 717.9,467.2 719.3,467.2 720.7,467.2 722.1,467.2 723.5,467.2 724.9,467.3 726.3,467.3 727.7,467.3 729.1,467.3 730.5,467.3 731.9,467.4 733.3,467.4 734.7,467.4 736.1,467.4 737.5,467.4 738.9,467.4 740.3,467.5 741.7,467.5 743.1,467.5 744.5,467.5 745.9,467.6 747.3,467.6 748.7,467.6 750.1,467.6 751.5,467.6 752.9,467.7 754.3,467.7 755.7,467.7 757.1,467.7 758.5,467.8 762.5,467.8"/><polyline points="139.5,189.2 142.5,189.5 143.9,189.8 145.3,190.2 146.7,190.7 148.1,191.3 149.5,191.9 150.9,192.6 152.3,193.5 153.7,194.5 155.1,195.5 156.5,196.7 157.9,198.0 159.3,199.3 160.7,200.6 162.1,202.1 163.5,203.6 164.9,205.2 166.3,207.0 167.7,208.8 169.1,210.8 170.5,212.8 171.9,214.9 173.3,217.2 174.7,219.5 176.1,221.8 177.5,224.0 178.9,226.1 180.3,228.0 181.7,229.8 183.1,231.5 184.5,233.2 185.9,234.9 187.3,236.5 188.7,238.0 190.1,239.5 191.5,241.1 192.9,242.6 194.3,244.0 195.7,245.5 197.1,246.8 198.5,248.0 199.9,249.1 201.3,250.1 202.7,251.2 204.1,252.2 205.5,253.1 206.9,254.0 208.3,254.8 209.7,255.5 211.1,256.1 212.5,256.5 213.9,256.6 215.3,256.5 216.7,256.3 218.1,255.9 219.5,255.4 220.9,254.8 222.3,254.0 223.7,253.3 225.1,252.4 226.5,251.6 227.9,250.7 229.3,249.6 230.7,248.4 232.1,247.0 233.5,245.5 234.9,243.9 236.3,242.2 237.7,240.4 239.1,238.6 240.5,236.8 241.9,235.0 243.3,233.2 244.7,231.3 246.1,229.4 247.5,227.5 248.9,225.4 250.3,223.4 251.7,221.3 253.1,219.2 254.5,217.2 255.9,215.1 257.3,213.0 258.7,210.8 260.1,208.7 261.5,206.5 262.9,204.3 264.3,202.0 265.7,199.8 267.1,197.6 268.5,195.4 269.9,193.3 271.3,191.2 272.7,189.1 274.1,187.1 275.5,185.2 276.9,183.3 278.3,181.4 279.7,179.6 281.1,177.8 282.5,176.0 283.9,174.3 285.3,172.7 286.7,171.1 288.1,169.5 289.5,168.0 290.9,166.4 292.3,164.9 293.7,163.4 295.1,161.9 296.5,160.4 297.9,159.0 299.3,157.6 300.7,156.3 302.1,155.1 303.5,154.0 304.9,152.9 306.3,151.9 307.7,150.9 309.1,150.0 310.5,149.1 311.9,148.3 313.3,147.5 314.7,146.7 316.1,146.0 317.5,145.4 318.9,144.8 320.3,144.2 321.7,143.8 323.1,143.3 324.5,142.8 325.9,142.3 327.3,141.8 328.7,141.4 330.1,141.1 331.5,140.8 332.9,140.6 334.3,140.4 335.7,140.4 337.1,140.5 338.5,140.6 339.9,140.7 341.3,140.9 342.7,141.2 344.1,141.4 345.5,141.7 346.9,142.1 348.3,142.4 349.7,142.8 351.1,143.2 352.5,143.6 353.9,144.0 355.3,144.4 356.7,144.9 358.1,145.4 359.5,145.9 360.9,146.5 362.3,147.2 363.7,147.9 365.1,148.7 366.5,149.5 367.9,150.3 369.3,151.2 370.7,152.1 372.1,153.1 373.5,154.0 374.9,155.1 376.3,156.2 377.7,157.6 379.1,159.0 380.5,160.5 381.9,162.0 383.3,163.6 384.7,165.2 386.1,166.8 387.5,168.4 388.9,170.0 390.3,171.6 391.7,173.3 393.1,175.0 394.5,176.7 395.9,178.5 397.3,180.3 398.7,182.1 400.1,184.0 401.5,186.0 402.9,188.0 404.3,190.1 405.7,192.2 407.1,194.4 408.5,196.6 409.9,198.8 411.3,201.1 412.7,203.4 414.1,205.8 415.5,208.2 416.9,210.5 418.3,213.0 419.7,215.4 421.1,217.9 422.5,220.4 423.9,223.0 425.3,225.5 426.7,228.1 428.1,230.7 429.5,233.3 430.9,235.9 432.3,238.5 433.7,241.2 435.1,243.9 436.5,246.6 437.9,249.3 439.3,252.0 440.7,254.7 442.1,257.5 443.5,260.3 444.9,263.1 446.3,266.0 447.7,269.0 449.1,272.0 450.5,274.9 451.9,277.7 453.3,280.4 454.7,283.0 456.1,285.4 457.5,287.7 458.9,289.9 460.3,292.1 461.7,294.3 463.1,296.5 464.5,298.8 465.9,301.1 467.3,303.4 468.7,305.9 470.1,308.4 471.5,311.0 472.9,313.6 474.3,316.3 475.7,319.0 477.1,321.8 478.5,324.6 479.9,327.5 481.3,330.3 482.7,333.2 484.1,336.0 485.5,338.8 486.9,341.7 488.3,344.4 489.7,347.2 491.1,349.9 492.5,352.5 493.9,355.1 495.3,357.6 496.7,360.1 498.1,362.5 499.5,364.9 500.9,367.2 502.3,369.4 503.7,371.7 505.1,373.9 506.5,376.0 507.9,378.1 509.3,380.2 510.7,382.3 512.1,384.3 513.5,386.3 514.9,388.3 516.3,390.3 517.7,392.2 519.1,394.2 520.5,396.1 521.9,398.0 523.3,399.9 524.7,401.8 526.1,403.6 527.5,405.4 528.9,407.2 530.3,409.0 531.7,410.7 533.1,412.4 534.5,414.1 535.9,415.8 537.3,417.4 538.7,418.9 540.1,420.5 541.5,422.0 542.9,423.5 544.3,424.9 545.7,426.3 547.1,427.6 548.5,429.0 549.9,430.2 551.3,431.5 552.7,432.7 554.1,433.9 555.5,435.1 556.9,436.2 558.3,437.3 559.7,438.4 561.1,439.4 562.5,440.4 563.9,441.4 565.3,442.3 566.7,443.2 568.1,444.1 569.5,445.0 570.9,445.9 572.3,446.7 573.7,447.5 575.1,448.2 576.5,449.0 577.9,449.7 579.3,450.4 580.7,451.1 582.1,451.7 583.5,452.3 584.9,452.9 586.3,453.5 587.7,454.1 589.1,454.7 590.5,455.2 591.9,455.7 593.3,456.2 594.7,456.7 596.1,457.1 597.5,457.5 598.9,458.0 600.3,458.4 601.7,458.8 603.1,459.1 604.5,459.5 605.9,459.9 607.3,460.2 608.7,460.5 610.1,460.8 611.5,461.1 612.9,461.4 614.3,461.7 615.7,462.0 617.1,462.2 618.5,462.5 619.9,462.7 621.3,462.9 622.7,463.2 624.1,463.4 625.5,463.6 626.9,463.8 628.3,464.0 629.7,464.1 631.1,464.3 632.5,464.4 633.9,464.6 635.3,464.7 636.7,464.8 638.1,465.0 639.5,465.1 640.9,465.2 642.3,465.3 643.7,465.4 645.1,465.5 646.5,465.6 647.9,465.7 649.3,465.7 650.7,465.8 652.1,465.9 653.5,465.9 654.9,466.0 656.3,466.0 657.7,466.0 659.1,466.0 660.5,466.1 661.9,466.1 663.3,466.1 664.7,466.1 666.1,466.1 667.5,466.1 668.9,466.1 670.3,466.1 671.7,466.1 673.1,466.1 674.5,466.1 675.9,466.1 677.3,466.1 678.7,466.1 680.1,466.1 681.5,466.1 682.9,466.1 684.3,466.1 685.7,466.1 687.1,466.1 688.5,466.2 689.9,466.2 691.3,466.2 692.7,466.2 694.1,466.2 695.5,466.2 696.9,466.2 698.3,466.2 699.7,466.2 701.1,466.2 702.5,466.3 703.9,466.3 705.3,466.3 706.7,466.3 708.1,466.3 709.5,466.3 710.9,466.3 712.3,466.3 713.7,466.3 715.1,466.4 716.5,466.4 717.9,466.4 719.3,466.4 720.7,466.4 722.1,466.4 723.5,466.4 724.9,466.4 726.3,466.5 727.7,466.5 729.1,466.5 730.5,466.5 731.9,466.5 733.3,466.5 734.7,466.5 736.1,466.6 737.5,466.6 738.9,466.6 740.3,466.6 741.7,466.6 743.1,466.6 744.5,466.7 745.9,466.7 747.3,466.7 748.7,466.7 750.1,466.7 751.5,466.7 752.9,466.8 754.3,466.8 755.7,466.8 757.1,466.8 758.5,466.8 762.5,466.9"/><polyline points="139.5,185.4 142.5,185.7 143.9,186.0 145.3,186.4 146.7,186.9 148.1,187.5 149.5,188.1 150.9,188.8 152.3,189.6 153.7,190.5 155.1,191.5 156.5,192.6 157.9,193.8 159.3,195.0 160.7,196.3 162.1,197.6 163.5,199.1 164.9,200.6 166.3,202.2 167.7,204.0 169.1,205.8 170.5,207.6 171.9,209.6 173.3,211.8 174.7,214.0 176.1,216.2 177.5,218.3 178.9,220.2 180.3,222.0 181.7,223.7 183.1,225.2 184.5,226.8 185.9,228.2 187.3,229.7 188.7,231.0 190.1,232.4 191.5,233.7 192.9,235.0 194.3,236.3 195.7,237.6 197.1,238.7 198.5,239.8 199.9,240.7 201.3,241.5 202.7,242.4 204.1,243.2 205.5,244.0 206.9,244.7 208.3,245.3 209.7,245.9 211.1,246.3 212.5,246.6 213.9,246.6 215.3,246.4 216.7,246.1 218.1,245.5 219.5,244.9 220.9,244.1 222.3,243.2 223.7,242.3 225.1,241.4 226.5,240.4 227.9,239.4 229.3,238.2 230.7,236.8 232.1,235.2 233.5,233.6 234.9,231.7 236.3,229.9 237.7,227.9 239.1,225.9 240.5,223.9 241.9,221.9 243.3,219.9 244.7,217.9 246.1,215.8 247.5,213.6 248.9,211.4 250.3,209.2 251.7,206.9 253.1,204.6 254.5,202.4 255.9,200.1 257.3,197.8 258.7,195.5 260.1,193.2 261.5,190.8 262.9,188.4 264.3,186.0 265.7,183.6 267.1,181.2 268.5,178.9 269.9,176.6 271.3,174.3 272.7,172.2 274.1,170.0 275.5,168.0 276.9,165.9 278.3,164.0 279.7,162.0 281.1,160.1 282.5,158.2 283.9,156.4 285.3,154.6 286.7,152.9 288.1,151.2 289.5,149.6 290.9,147.9 292.3,146.3 293.7,144.6 295.1,143.0 296.5,141.4 297.9,139.9 299.3,138.4 300.7,137.0 302.1,135.7 303.5,134.5 304.9,133.3 306.3,132.2 307.7,131.2 309.1,130.1 310.5,129.2 311.9,128.2 313.3,127.3 314.7,126.5 316.1,125.7 317.5,125.0 318.9,124.3 320.3,123.7 321.7,123.2 323.1,122.6 324.5,122.1 325.9,121.6 327.3,121.0 328.7,120.6 330.1,120.2 331.5,119.8 332.9,119.6 334.3,119.4 335.7,119.4 337.1,119.4 338.5,119.5 339.9,119.7 341.3,119.9 342.7,120.1 344.1,120.4 345.5,120.7 346.9,121.0 348.3,121.4 349.7,121.8 351.1,122.2 352.5,122.6 353.9,123.0 355.3,123.4 356.7,123.9 358.1,124.4 359.5,125.0 360.9,125.6 362.3,126.3 363.7,127.0 365.1,127.8 366.5,128.7 367.9,129.6 369.3,130.5 370.7,131.5 372.1,132.5 373.5,133.5 374.9,134.6 376.3,135.8 377.7,137.2 379.1,138.7 380.5,140.3 381.9,142.0 383.3,143.7 384.7,145.4 386.1,147.1 387.5,148.8 388.9,150.5 390.3,152.2 391.7,153.9 393.1,155.7 394.5,157.5 395.9,159.4 397.3,161.3 398.7,163.2 400.1,165.2 401.5,167.3 402.9,169.4 404.3,171.6 405.7,173.8 407.1,176.1 408.5,178.4 409.9,180.8 411.3,183.2 412.7,185.6 414.1,188.1 415.5,190.6 416.9,193.1 418.3,195.7 419.7,198.3 421.1,200.9 422.5,203.6 423.9,206.2 425.3,208.9 426.7,211.7 428.1,214.4 429.5,217.2 430.9,220.0 432.3,222.8 433.7,225.6 435.1,228.4 436.5,231.2 437.9,234.1 439.3,237.0 440.7,239.9 442.1,242.9 443.5,245.9 444.9,248.9 446.3,252.0 447.7,255.2 449.1,258.4 450.5,261.5 451.9,264.5 453.3,267.4 454.7,270.1 456.1,272.7 457.5,275.2 458.9,277.6 460.3,279.9 461.7,282.3 463.1,284.6 464.5,287.0 465.9,289.5 467.3,292.0 468.7,294.6 470.1,297.3 471.5,300.0 472.9,302.8 474.3,305.7 475.7,308.6 477.1,311.6 478.5,314.6 479.9,317.7 481.3,320.7 482.7,323.8 484.1,326.8 485.5,329.9 486.9,332.9 488.3,335.9 489.7,338.8 491.1,341.7 492.5,344.5 493.9,347.3 495.3,350.0 496.7,352.6 498.1,355.2 499.5,357.7 500.9,360.2 502.3,362.6 503.7,365.0 505.1,367.3 506.5,369.6 507.9,371.9 509.3,374.1 510.7,376.3 512.1,378.4 513.5,380.6 514.9,382.7 516.3,384.8 517.7,386.9 519.1,388.9 520.5,391.0 521.9,393.0 523.3,395.0 524.7,397.0 526.1,399.0 527.5,400.9 528.9,402.9 530.3,404.7 531.7,406.6 533.1,408.4 534.5,410.2 535.9,412.0 537.3,413.7 538.7,415.4 540.1,417.0 541.5,418.6 542.9,420.2 544.3,421.7 545.7,423.2 547.1,424.6 548.5,426.0 549.9,427.4 551.3,428.7 552.7,430.0 554.1,431.3 555.5,432.5 556.9,433.7 558.3,434.9 559.7,436.0 561.1,437.2 562.5,438.2 563.9,439.3 565.3,440.3 566.7,441.3 568.1,442.2 569.5,443.1 570.9,444.0 572.3,444.9 573.7,445.7 575.1,446.5 576.5,447.3 577.9,448.1 579.3,448.8 580.7,449.5 582.1,450.2 583.5,450.9 584.9,451.5 586.3,452.2 587.7,452.8 589.1,453.3 590.5,453.9 591.9,454.4 593.3,455.0 594.7,455.5 596.1,455.9 597.5,456.4 598.9,456.8 600.3,457.3 601.7,457.7 603.1,458.1 604.5,458.5 605.9,458.8 607.3,459.2 608.7,459.5 610.1,459.9 611.5,460.2 612.9,460.5 614.3,460.8 615.7,461.0 617.1,461.3 618.5,461.6 619.9,461.8 621.3,462.1 622.7,462.3 624.1,462.5 625.5,462.7 626.9,462.9 628.3,463.1 629.7,463.3 631.1,463.5 632.5,463.7 633.9,463.8 635.3,463.9 636.7,464.1 638.1,464.2 639.5,464.3 640.9,464.4 642.3,464.5 643.7,464.7 645.1,464.7 646.5,464.8 647.9,464.9 649.3,465.0 650.7,465.1 652.1,465.1 653.5,465.2 654.9,465.2 656.3,465.3 657.7,465.3 659.1,465.3 660.5,465.3 661.9,465.3 663.3,465.4 664.7,465.4 666.1,465.4 667.5,465.4 668.9,465.4 670.3,465.4 671.7,465.3 673.1,465.3 674.5,465.3 675.9,465.3 677.3,465.3 678.7,465.3 680.1,465.3 681.5,465.3 682.9,465.3 684.3,465.4 685.7,465.4 687.1,465.4 688.5,465.4 689.9,465.4 691.3,465.4 692.7,465.4 694.1,465.4 695.5,465.4 696.9,465.4 698.3,465.4 699.7,465.4 701.1,465.4 702.5,465.5 703.9,465.5 705.3,465.5 706.7,465.5 708.1,465.5 709.5,465.5 710.9,465.5 712.3,465.5 713.7,465.5 715.1,465.5 716.5,465.5 717.9,465.5 719.3,465.6 720.7,465.6 722.1,465.6 723.5,465.6 724.9,465.6 726.3,465.6 727.7,465.6 729.1,465.6 730.5,465.6 731.9,465.6 733.3,465.7 734.7,465.7 736.1,465.7 737.5,465.7 738.9,465.7 740.3,465.7 741.7,465.7 743.1,465.7 744.5,465.8 745.9,465.8 747.3,465.8 748.7,465.8 750.1,465.8 751.5,465.8 752.9,465.8 754.3,465.8 755.7,465.9 757.1,465.9 758.5,465.9 762.5,465.9"/><polyline points="139.5,181.2 142.5,181.5 143.9,181.8 145.3,182.2 146.7,182.7 148.1,183.2 149.5,183.8 150.9,184.4 152.3,185.2 153.7,186.0 155.1,187.0 156.5,188.0 157.9,189.1 159.3,190.2 160.7,191.4 162.1,192.7 163.5,194.0 164.9,195.4 166.3,196.9 167.7,198.5 169.1,200.1 170.5,201.8 171.9,203.7 173.3,205.7 174.7,207.8 176.1,209.9 177.5,211.8 178.9,213.7 180.3,215.3 181.7,216.8 183.1,218.2 184.5,219.5 185.9,220.8 187.3,222.0 188.7,223.2 190.1,224.3 191.5,225.5 192.9,226.6 194.3,227.7 195.7,228.7 197.1,229.7 198.5,230.5 199.9,231.2 201.3,231.9 202.7,232.5 204.1,233.1 205.5,233.7 206.9,234.2 208.3,234.6 209.7,235.0 211.1,235.3 212.5,235.5 213.9,235.4 215.3,235.1 216.7,234.5 218.1,233.9 219.5,233.1 220.9,232.1 222.3,231.1 223.7,230.0 225.1,228.9 226.5,227.8 227.9,226.6 229.3,225.3 230.7,223.7 232.1,222.0 233.5,220.1 234.9,218.1 236.3,216.0 237.7,213.8 239.1,211.6 240.5,209.4 241.9,207.2 243.3,205.0 244.7,202.8 246.1,200.5 247.5,198.1 248.9,195.7 250.3,193.2 251.7,190.7 253.1,188.2 254.5,185.7 255.9,183.2 257.3,180.7 258.7,178.2 260.1,175.7 261.5,173.2 262.9,170.6 264.3,168.0 265.7,165.4 267.1,162.9 268.5,160.3 269.9,157.9 271.3,155.4 272.7,153.1 274.1,150.8 275.5,148.6 276.9,146.5 278.3,144.3 279.7,142.2 281.1,140.2 282.5,138.2 283.9,136.3 285.3,134.4 286.7,132.5 288.1,130.7 289.5,128.9 290.9,127.1 292.3,125.3 293.7,123.6 295.1,121.8 296.5,120.1 297.9,118.5 299.3,116.9 300.7,115.3 302.1,113.9 303.5,112.5 304.9,111.3 306.3,110.1 307.7,108.9 309.1,107.8 310.5,106.7 311.9,105.7 313.3,104.7 314.7,103.8 316.1,102.9 317.5,102.1 318.9,101.3 320.3,100.7 321.7,100.1 323.1,99.5 324.5,98.8 325.9,98.2 327.3,97.7 328.7,97.1 330.1,96.7 331.5,96.3 332.9,96.0 334.3,95.8 335.7,95.7 337.1,95.8 338.5,95.9 339.9,96.0 341.3,96.2 342.7,96.5 344.1,96.7 345.5,97.0 346.9,97.4 348.3,97.8 349.7,98.2 351.1,98.6 352.5,99.0 353.9,99.4 355.3,99.9 356.7,100.3 358.1,100.9 359.5,101.5 360.9,102.1 362.3,102.8 363.7,103.6 365.1,104.4 366.5,105.3 367.9,106.3 369.3,107.2 370.7,108.3 372.1,109.3 373.5,110.4 374.9,111.5 376.3,112.9 377.7,114.3 379.1,115.9 380.5,117.6 381.9,119.4 383.3,121.2 384.7,123.0 386.1,124.9 387.5,126.7 388.9,128.5 390.3,130.3 391.7,132.1 393.1,134.0 394.5,135.9 395.9,137.9 397.3,139.9 398.7,142.0 400.1,144.1 401.5,146.3 402.9,148.5 404.3,150.8 405.7,153.2 407.1,155.6 408.5,158.0 409.9,160.5 411.3,163.1 412.7,165.7 414.1,168.3 415.5,170.9 416.9,173.6 418.3,176.3 419.7,179.0 421.1,181.8 422.5,184.6 423.9,187.5 425.3,190.3 426.7,193.2 428.1,196.1 429.5,199.1 430.9,202.0 432.3,205.0 433.7,208.0 435.1,211.0 436.5,214.1 437.9,217.1 439.3,220.2 440.7,223.3 442.1,226.5 443.5,229.7 444.9,232.9 446.3,236.3 447.7,239.7 449.1,243.1 450.5,246.4 451.9,249.7 453.3,252.8 454.7,255.7 456.1,258.5 457.5,261.1 458.9,263.7 460.3,266.2 461.7,268.7 463.1,271.2 464.5,273.8 465.9,276.4 467.3,279.1 468.7,281.9 470.1,284.8 471.5,287.7 472.9,290.7 474.3,293.8 475.7,297.0 477.1,300.2 478.5,303.4 479.9,306.7 481.3,310.0 482.7,313.3 484.1,316.5 485.5,319.8 486.9,323.1 488.3,326.3 489.7,329.4 491.1,332.5 492.5,335.6 493.9,338.5 495.3,341.4 496.7,344.2 498.1,347.0 499.5,349.7 500.9,352.3 502.3,354.9 503.7,357.5 505.1,360.0 506.5,362.4 507.9,364.8 509.3,367.2 510.7,369.5 512.1,371.8 513.5,374.1 514.9,376.4 516.3,378.6 517.7,380.9 519.1,383.1 520.5,385.3 521.9,387.4 523.3,389.6 524.7,391.7 526.1,393.8 527.5,395.9 528.9,398.0 530.3,400.0 531.7,402.0 533.1,403.9 534.5,405.8 535.9,407.7 537.3,409.5 538.7,411.3 540.1,413.1 541.5,414.8 542.9,416.5 544.3,418.1 545.7,419.7 547.1,421.3 548.5,422.8 549.9,424.2 551.3,425.7 552.7,427.0 554.1,428.4 555.5,429.7 556.9,431.0 558.3,432.2 559.7,433.5 561.1,434.6 562.5,435.8 563.9,436.9 565.3,438.0 566.7,439.0 568.1,440.0 569.5,441.0 570.9,442.0 572.3,442.9 573.7,443.8 575.1,444.6 576.5,445.5 577.9,446.3 579.3,447.1 580.7,447.8 582.1,448.6 583.5,449.3 584.9,449.9 586.3,450.6 587.7,451.2 589.1,451.9 590.5,452.5 591.9,453.0 593.3,453.6 594.7,454.1 596.1,454.6 597.5,455.1 598.9,455.6 600.3,456.0 601.7,456.5 603.1,456.9 604.5,457.3 605.9,457.7 607.3,458.0 608.7,458.4 610.1,458.8 611.5,459.1 612.9,459.4 614.3,459.7 615.7,460.0 617.1,460.3 618.5,460.6 619.9,460.8 621.3,461.1 622.7,461.3 624.1,461.6 625.5,461.8 626.9,462.0 628.3,462.2 629.7,462.4 631.1,462.6 632.5,462.8 633.9,462.9 635.3,463.1 636.7,463.2 638.1,463.3 639.5,463.5 640.9,463.6 642.3,463.7 643.7,463.8 645.1,463.9 646.5,464.0 647.9,464.1 649.3,464.2 650.7,464.3 652.1,464.3 653.5,464.4 654.9,464.4 656.3,464.5 657.7,464.5 659.1,464.5 660.5,464.5 661.9,464.5 663.3,464.5 664.7,464.5 666.1,464.5 667.5,464.5 668.9,464.5 670.3,464.5 671.7,464.5 673.1,464.5 674.5,464.5 675.9,464.5 677.3,464.5 678.7,464.5 680.1,464.5 681.5,464.5 682.9,464.5 684.3,464.5 685.7,464.5 687.1,464.5 688.5,464.5 689.9,464.5 691.3,464.5 692.7,464.5 694.1,464.5 695.5,464.5 696.9,464.5 698.3,464.5 699.7,464.5 701.1,464.5 702.5,464.6 703.9,464.6 705.3,464.6 706.7,464.6 708.1,464.6 709.5,464.6 710.9,464.6 712.3,464.6 713.7,464.6 715.1,464.6 716.5,464.6 717.9,464.6 719.3,464.6 720.7,464.6 722.1,464.6 723.5,464.6 724.9,464.6 726.3,464.6 727.7,464.7 729.1,464.7 730.5,464.7 731.9,464.7 733.3,464.7 734.7,464.7 736.1,464.7 737.5,464.7 738.9,464.7 740.3,464.7 741.7,464.7 743.1,464.7 744.5,464.7 745.9,464.8 747.3,464.8 748.7,464.8 750.1,464.8 751.5,464.8 752.9,464.8 754.3,464.8 755.7,464.8 757.1,464.8 758.5,464.8 762.5,464.9"/><polyline points="139.5,177.5 142.5,177.8 143.9,178.1 145.3,178.5 146.7,178.9 148.1,179.5 149.5,180.0 150.9,180.6 152.3,181.3 153.7,182.1 155.1,183.0 156.5,184.0 157.9,185.0 159.3,186.1 160.7,187.2 162.1,188.3 163.5,189.6 164.9,190.9 166.3,192.3 167.7,193.7 169.1,195.2 170.5,196.8 171.9,198.5 173.3,200.4 174.7,202.4 176.1,204.4 177.5,206.2 178.9,208.0 180.3,209.4 181.7,210.8 183.1,212.0 184.5,213.2 185.9,214.3 187.3,215.4 188.7,216.4 190.1,217.3 191.5,218.3 192.9,219.2 194.3,220.1 195.7,221.0 197.1,221.8 198.5,222.4 199.9,223.0 201.3,223.4 202.7,223.9 204.1,224.3 205.5,224.7 206.9,225.1 208.3,225.4 209.7,225.6 211.1,225.8 212.5,225.8 213.9,225.6 215.3,225.2 216.7,224.6 218.1,223.7 219.5,222.8 220.9,221.7 222.3,220.6 223.7,219.4 225.1,218.1 226.5,216.9 227.9,215.6 229.3,214.1 230.7,212.4 232.1,210.5 233.5,208.4 234.9,206.2 236.3,203.9 237.7,201.6 239.1,199.2 240.5,196.8 241.9,194.4 243.3,192.1 244.7,189.7 246.1,187.2 247.5,184.6 248.9,182.0 250.3,179.4 251.7,176.7 253.1,174.0 254.5,171.3 255.9,168.6 257.3,165.9 258.7,163.3 260.1,160.6 261.5,157.9 262.9,155.1 264.3,152.4 265.7,149.6 267.1,146.9 268.5,144.2 269.9,141.6 271.3,139.0 272.7,136.5 274.1,134.1 275.5,131.8 276.9,129.5 278.3,127.3 279.7,125.1 281.1,122.9 282.5,120.8 283.9,118.8 285.3,116.7 286.7,114.8 288.1,112.8 289.5,110.9 290.9,109.0 292.3,107.1 293.7,105.3 295.1,103.4 296.5,101.6 297.9,99.8 299.3,98.1 300.7,96.5 302.1,95.0 303.5,93.5 304.9,92.2 306.3,90.9 307.7,89.6 309.1,88.4 310.5,87.2 311.9,86.1 313.3,85.0 314.7,84.0 316.1,83.1 317.5,82.2 318.9,81.4 320.3,80.7 321.7,80.0 323.1,79.3 324.5,78.6 325.9,78.0 327.3,77.4 328.7,76.8 330.1,76.3 331.5,75.9 332.9,75.5 334.3,75.3 335.7,75.2 337.1,75.3 338.5,75.3 339.9,75.5 341.3,75.7 342.7,75.9 344.1,76.2 345.5,76.5 346.9,76.9 348.3,77.2 349.7,77.6 351.1,78.1 352.5,78.5 353.9,78.9 355.3,79.4 356.7,79.9 358.1,80.4 359.5,81.0 360.9,81.7 362.3,82.5 363.7,83.3 365.1,84.1 366.5,85.0 367.9,86.0 369.3,87.0 370.7,88.1 372.1,89.2 373.5,90.3 374.9,91.5 376.3,92.9 377.7,94.5 379.1,96.2 380.5,98.0 381.9,99.8 383.3,101.7 384.7,103.7 386.1,105.6 387.5,107.5 388.9,109.3 390.3,111.2 391.7,113.1 393.1,115.1 394.5,117.0 395.9,119.0 397.3,121.1 398.7,123.2 400.1,125.4 401.5,127.6 402.9,129.9 404.3,132.3 405.7,134.7 407.1,137.1 408.5,139.7 409.9,142.2 411.3,144.8 412.7,147.4 414.1,150.1 415.5,152.8 416.9,155.5 418.3,158.3 419.7,161.1 421.1,164.0 422.5,166.9 423.9,169.8 425.3,172.8 426.7,175.8 428.1,178.8 429.5,181.8 430.9,184.9 432.3,188.0 433.7,191.1 435.1,194.2 436.5,197.4 437.9,200.6 439.3,203.8 440.7,207.1 442.1,210.4 443.5,213.8 444.9,217.2 446.3,220.7 447.7,224.4 449.1,228.0 450.5,231.5 451.9,235.0 453.3,238.3 454.7,241.5 456.1,244.4 457.5,247.2 458.9,249.9 460.3,252.6 461.7,255.3 463.1,257.9 464.5,260.7 465.9,263.4 467.3,266.3 468.7,269.3 470.1,272.4 471.5,275.5 472.9,278.7 474.3,282.0 475.7,285.4 477.1,288.8 478.5,292.3 479.9,295.8 481.3,299.3 482.7,302.8 484.1,306.3 485.5,309.8 486.9,313.3 488.3,316.7 489.7,320.1 491.1,323.4 492.5,326.7 493.9,329.8 495.3,332.9 496.7,335.9 498.1,338.9 499.5,341.8 500.9,344.6 502.3,347.3 503.7,350.0 505.1,352.7 506.5,355.3 507.9,357.8 509.3,360.4 510.7,362.9 512.1,365.3 513.5,367.7 514.9,370.1 516.3,372.5 517.7,374.9 519.1,377.3 520.5,379.6 521.9,381.9 523.3,384.2 524.7,386.5 526.1,388.7 527.5,390.9 528.9,393.1 530.3,395.3 531.7,397.4 533.1,399.5 534.5,401.5 535.9,403.5 537.3,405.5 538.7,407.4 540.1,409.3 541.5,411.1 542.9,412.9 544.3,414.6 545.7,416.3 547.1,418.0 548.5,419.6 549.9,421.1 551.3,422.7 552.7,424.1 554.1,425.6 555.5,427.0 556.9,428.4 558.3,429.7 559.7,431.0 561.1,432.2 562.5,433.4 563.9,434.6 565.3,435.8 566.7,436.9 568.1,437.9 569.5,439.0 570.9,440.0 572.3,441.0 573.7,441.9 575.1,442.9 576.5,443.7 577.9,444.6 579.3,445.4 580.7,446.2 582.1,447.0 583.5,447.8 584.9,448.5 586.3,449.2 587.7,449.9 589.1,450.5 590.5,451.1 591.9,451.7 593.3,452.3 594.7,452.9 596.1,453.4 597.5,453.9 598.9,454.4 600.3,454.9 601.7,455.4 603.1,455.8 604.5,456.2 605.9,456.6 607.3,457.0 608.7,457.4 610.1,457.8 611.5,458.1 612.9,458.5 614.3,458.8 615.7,459.1 617.1,459.4 618.5,459.7 619.9,460.0 621.3,460.2 622.7,460.5 624.1,460.7 625.5,461.0 626.9,461.2 628.3,461.4 629.7,461.6 631.1,461.8 632.5,462.0 633.9,462.2 635.3,462.3 636.7,462.5 638.1,462.6 639.5,462.7 640.9,462.9 642.3,463.0 643.7,463.1 645.1,463.2 646.5,463.3 647.9,463.4 649.3,463.5 650.7,463.6 652.1,463.6 653.5,463.7 654.9,463.7 656.3,463.8 657.7,463.8 659.1,463.8 660.5,463.8 661.9,463.8 663.3,463.8 664.7,463.8 666.1,463.8 667.5,463.8 668.9,463.8 670.3,463.8 671.7,463.8 673.1,463.8 674.5,463.8 675.9,463.8 677.3,463.7 678.7,463.7 680.1,463.7 681.5,463.7 682.9,463.7 684.3,463.7 685.7,463.7 687.1,463.7 688.5,463.7 689.9,463.7 691.3,463.8 692.7,463.8 694.1,463.8 695.5,463.8 696.9,463.8 698.3,463.8 699.7,463.8 701.1,463.8 702.5,463.8 703.9,463.8 705.3,463.8 706.7,463.8 708.1,463.8 709.5,463.8 710.9,463.8 712.3,463.8 713.7,463.8 715.1,463.8 716.5,463.8 717.9,463.8 719.3,463.8 720.7,463.8 722.1,463.8 723.5,463.8 724.9,463.8 726.3,463.8 727.7,463.8 729.1,463.8 730.5,463.8 731.9,463.8 733.3,463.8 734.7,463.8 736.1,463.8 737.5,463.8 738.9,463.8 740.3,463.9 741.7,463.9 743.1,463.9 744.5,463.9 745.9,463.9 747.3,463.9 748.7,463.9 750.1,463.9 751.5,463.9 752.9,463.9 754.3,463.9 755.7,463.9 757.1,463.9 758.5,463.9 762.5,463.9"/><polyline points="139.5,173.9 142.5,174.2 143.9,174.5 145.3,174.9 146.7,175.3 148.1,175.8 149.5,176.3 150.9,176.9 152.3,177.6 153.7,178.3 155.1,179.2 156.5,180.1 157.9,181.0 159.3,182.0 160.7,183.0 162.1,184.1 163.5,185.2 164.9,186.4 166.3,187.7 167.7,189.0 169.1,190.4 170.5,191.8 171.9,193.5 173.3,195.2 174.7,197.1 176.1,199.0 177.5,200.7 178.9,202.3 180.3,203.7 181.7,204.8 183.1,205.9 184.5,207.0 185.9,207.9 187.3,208.8 188.7,209.7 190.1,210.5 191.5,211.2 192.9,212.0 194.3,212.7 195.7,213.4 197.1,214.0 198.5,214.5 199.9,214.9 201.3,215.2 202.7,215.4 204.1,215.7 205.5,215.9 206.9,216.1 208.3,216.2 209.7,216.3 211.1,216.4 212.5,216.3 213.9,216.0 215.3,215.5 216.7,214.7 218.1,213.8 219.5,212.7 220.9,211.5 222.3,210.2 223.7,208.9 225.1,207.5 226.5,206.1 227.9,204.7 229.3,203.0 230.7,201.2 232.1,199.1 233.5,196.9 234.9,194.5 236.3,192.1 237.7,189.5 239.1,187.0 240.5,184.4 241.9,181.9 243.3,179.3 244.7,176.8 246.1,174.1 247.5,171.3 248.9,168.5 250.3,165.7 251.7,162.8 253.1,159.9 254.5,157.0 255.9,154.2 257.3,151.3 258.7,148.5 260.1,145.7 261.5,142.8 262.9,139.9 264.3,136.9 265.7,134.0 267.1,131.2 268.5,128.3 269.9,125.5 271.3,122.8 272.7,120.2 274.1,117.7 275.5,115.2 276.9,112.8 278.3,110.5 279.7,108.2 281.1,105.9 282.5,103.7 283.9,101.5 285.3,99.4 286.7,97.3 288.1,95.2 289.5,93.2 290.9,91.2 292.3,89.2 293.7,87.2 295.1,85.3 296.5,83.3 297.9,81.5 299.3,79.7 300.7,77.9 302.1,76.3 303.5,74.7 304.9,73.3 306.3,71.9 307.7,70.6 309.1,69.3 310.5,68.0 311.9,66.8 313.3,65.7 314.7,64.6 316.1,63.5 317.5,62.6 318.9,61.7 320.3,61.0 321.7,60.2 323.1,59.5 324.5,58.7 325.9,58.0 327.3,57.4 328.7,56.7 330.1,56.2 331.5,55.7 332.9,55.4 334.3,55.1 335.7,55.0 337.1,55.0 338.5,55.1 339.9,55.2 341.3,55.4 342.7,55.7 344.1,56.0 345.5,56.3 346.9,56.6 348.3,57.0 349.7,57.4 351.1,57.8 352.5,58.3 353.9,58.7 355.3,59.2 356.7,59.7 358.1,60.2 359.5,60.9 360.9,61.6 362.3,62.4 363.7,63.2 365.1,64.1 366.5,65.1 367.9,66.1 369.3,67.1 370.7,68.2 372.1,69.4 373.5,70.6 374.9,71.8 376.3,73.3 377.7,74.9 379.1,76.7 380.5,78.6 381.9,80.5 383.3,82.5 384.7,84.6 386.1,86.6 387.5,88.5 388.9,90.4 390.3,92.3 391.7,94.2 393.1,96.1 394.5,98.0 395.9,99.9 397.3,101.9 398.7,103.9 400.1,105.9 401.5,108.0 402.9,110.2 404.3,112.4 405.7,114.7 407.1,117.0 408.5,119.3 409.9,121.7 411.3,124.2 412.7,126.6 414.1,129.1 415.5,131.7 416.9,134.3 418.3,136.9 419.7,139.6 421.1,142.3 422.5,145.1 423.9,147.9 425.3,150.7 426.7,153.6 428.1,156.6 429.5,159.5 430.9,162.5 432.3,165.6 433.7,168.7 435.1,171.9 436.5,175.1 437.9,178.3 439.3,181.6 440.7,184.9 442.1,188.4 443.5,191.9 444.9,195.4 446.3,199.2 447.7,203.0 449.1,206.9 450.5,210.7 451.9,214.4 453.3,218.0 454.7,221.4 456.1,224.6 457.5,227.7 458.9,230.6 460.3,233.5 461.7,236.4 463.1,239.3 464.5,242.3 465.9,245.3 467.3,248.4 468.7,251.6 470.1,255.0 471.5,258.4 472.9,261.9 474.3,265.5 475.7,269.2 477.1,272.9 478.5,276.7 479.9,280.5 481.3,284.3 482.7,288.2 484.1,292.0 485.5,295.8 486.9,299.6 488.3,303.4 489.7,307.1 491.1,310.7 492.5,314.2 493.9,317.6 495.3,321.0 496.7,324.3 498.1,327.5 499.5,330.6 500.9,333.6 502.3,336.6 503.7,339.6 505.1,342.5 506.5,345.3 507.9,348.1 509.3,350.8 510.7,353.5 512.1,356.1 513.5,358.8 514.9,361.4 516.3,364.0 517.7,366.5 519.1,369.1 520.5,371.6 521.9,374.1 523.3,376.6 524.7,379.1 526.1,381.5 527.5,383.9 528.9,386.3 530.3,388.7 531.7,391.0 533.1,393.3 534.5,395.5 535.9,397.7 537.3,399.8 538.7,401.9 540.1,404.0 541.5,406.0 542.9,407.9 544.3,409.8 545.7,411.7 547.1,413.5 548.5,415.3 549.9,417.0 551.3,418.6 552.7,420.3 554.1,421.8 555.5,423.4 556.9,424.9 558.3,426.3 559.7,427.7 561.1,429.1 562.5,430.4 563.9,431.7 565.3,432.9 566.7,434.2 568.1,435.3 569.5,436.5 570.9,437.6 572.3,438.6 573.7,439.7 575.1,440.7 576.5,441.6 577.9,442.6 579.3,443.5 580.7,444.3 582.1,445.2 583.5,446.0 584.9,446.8 586.3,447.5 587.7,448.2 589.1,448.9 590.5,449.6 591.9,450.3 593.3,450.9 594.7,451.5 596.1,452.1 597.5,452.6 598.9,453.2 600.3,453.7 601.7,454.2 603.1,454.6 604.5,455.1 605.9,455.5 607.3,456.0 608.7,456.4 610.1,456.7 611.5,457.1 612.9,457.5 614.3,457.8 615.7,458.2 617.1,458.5 618.5,458.8 619.9,459.1 621.3,459.4 622.7,459.6 624.1,459.9 625.5,460.2 626.9,460.4 628.3,460.6 629.7,460.8 631.1,461.0 632.5,461.2 633.9,461.4 635.3,461.6 636.7,461.7 638.1,461.9 639.5,462.0 640.9,462.1 642.3,462.3 643.7,462.4 645.1,462.5 646.5,462.6 647.9,462.7 649.3,462.8 650.7,462.9 652.1,462.9 653.5,463.0 654.9,463.0 656.3,463.1 657.7,463.1 659.1,463.1 660.5,463.1 661.9,463.1 663.3,463.1 664.7,463.1 666.1,463.1 667.5,463.1 668.9,463.1 670.3,463.1 671.7,463.1 673.1,463.1 674.5,463.0 675.9,463.0 677.3,463.0 678.7,463.0 680.1,463.0 681.5,463.0 682.9,463.0 684.3,463.0 685.7,463.0 687.1,463.0 688.5,463.0 689.9,463.0 691.3,463.0 692.7,463.0 694.1,463.0 695.5,463.0 696.9,463.0 698.3,463.0 699.7,463.0 701.1,463.0 702.5,463.0 703.9,463.0 705.3,463.0 706.7,463.0 708.1,463.0 709.5,463.0 710.9,463.0 712.3,463.0 713.7,463.0 715.1,463.0 716.5,463.0 717.9,463.0 719.3,463.0 720.7,463.0 722.1,463.0 723.5,463.0 724.9,463.0 726.3,463.0 727.7,463.0 729.1,463.0 730.5,463.0 731.9,463.0 733.3,463.0 734.7,463.0 736.1,463.0 737.5,463.0 738.9,463.0 740.3,463.0 741.7,463.0 743.1,463.0 744.5,463.0 745.9,463.0 747.3,463.0 748.7,463.0 750.1,463.0 751.5,463.0 752.9,463.0 754.3,463.0 755.7,463.0 757.1,463.0 758.5,463.0 762.5,463.0"/>
</g>
<g clip-path="url(#cb)" fill="none" stroke="#ff0000" stroke-width="4.2" stroke-linejoin="round"><polyline points="139.5,266.8 142.5,266.2 143.9,266.3 145.3,266.7 146.7,267.2 148.1,267.8 149.5,268.5 150.9,269.3 152.3,270.4 153.7,271.8 155.1,273.3 156.5,275.0 157.9,276.7 159.3,278.8 160.7,281.1 162.1,283.6 163.5,286.3 164.9,288.9 166.3,291.5 167.7,294.2 169.1,296.9 170.5,299.7 171.9,302.5 173.3,305.3 174.7,308.3 176.1,311.5 177.5,314.9 178.9,318.5 180.3,322.5 181.7,326.7 183.1,331.2 184.5,335.9 185.9,340.6 187.3,345.3 188.7,350.0 190.1,354.6 191.5,359.2 192.9,363.8 194.3,368.1 195.7,372.2 197.1,376.2 198.5,380.0 199.9,383.8 201.3,387.6 202.7,391.5 204.1,395.6 205.5,399.9 206.9,404.0 208.3,408.0 209.7,411.6 211.1,414.9 212.5,417.8 213.9,420.6 215.3,423.3 216.7,425.8 218.1,428.4 219.5,430.8 220.9,433.1 222.3,435.4 223.7,437.5 225.1,439.5 226.5,441.4 227.9,443.4 229.3,445.2 230.7,446.9 232.1,448.5 233.5,450.0 234.9,451.3 236.3,452.6 237.7,453.7 239.1,454.8 240.5,455.8 241.9,456.7 243.3,457.6 244.7,458.5 246.1,459.4 247.5,460.3 248.9,461.1 250.3,461.9 251.7,462.7 253.1,463.4 254.5,464.1 255.9,464.7 257.3,465.3 258.7,465.8 260.1,466.3 261.5,466.7 262.9,467.1 264.3,467.6 265.7,467.9 267.1,468.3 268.5,468.7 269.9,469.0 271.3,469.3 272.7,469.6 274.1,469.9 275.5,470.2 276.9,470.5 278.3,470.8 279.7,471.0 281.1,471.2 282.5,471.4 283.9,471.6 285.3,471.8 286.7,472.0 288.1,472.2 289.5,472.4 290.9,472.5 292.3,472.7 293.7,472.8 295.1,473.0 296.5,473.1 297.9,473.2 299.3,473.4 300.7,473.5 302.1,473.6 303.5,473.7 304.9,473.8 306.3,473.9 307.7,474.0 309.1,474.1 310.5,474.2 311.9,474.3 313.3,474.4 314.7,474.5 316.1,474.6 317.5,474.7 318.9,474.8 320.3,474.9 321.7,475.0 323.1,475.1 324.5,475.1 325.9,475.2 327.3,475.3 328.7,475.4 330.1,475.4 331.5,475.5 332.9,475.6 334.3,475.6 335.7,475.7 337.1,475.8 338.5,475.8 339.9,475.9 341.3,476.0 342.7,476.0 344.1,476.1 345.5,476.1 346.9,476.2 348.3,476.2 349.7,476.3 351.1,476.3 352.5,476.4 353.9,476.4 355.3,476.4 356.7,476.5 358.1,476.5 359.5,476.6 360.9,476.6 362.3,476.6 363.7,476.7 365.1,476.7 366.5,476.8 367.9,476.8 369.3,476.8 370.7,476.9 372.1,476.9 373.5,476.9 374.9,477.0 376.3,477.0 377.7,477.0 379.1,477.1 380.5,477.1 381.9,477.1 383.3,477.2 384.7,477.2 386.1,477.2 387.5,477.3 388.9,477.3 390.3,477.3 391.7,477.4 393.1,477.4 394.5,477.4 395.9,477.5 397.3,477.5 398.7,477.5 400.1,477.6 401.5,477.6 402.9,477.6 404.3,477.7 405.7,477.7 407.1,477.8 408.5,477.8 409.9,477.9 411.3,477.9 412.7,477.9 414.1,478.0 415.5,478.0 416.9,478.1 418.3,478.1 419.7,478.2 421.1,478.2 422.5,478.3 423.9,478.4 425.3,478.4 426.7,478.5 428.1,478.5 429.5,478.6 430.9,478.7 432.3,478.7 433.7,478.8 435.1,478.9 436.5,478.9 437.9,479.0 439.3,479.1 440.7,479.2 442.1,479.2 443.5,479.3 444.9,479.4 446.3,479.5 447.7,479.5 449.1,479.6 450.5,479.7 451.9,479.8 453.3,479.9 454.7,480.0 456.1,480.0 457.5,480.1 458.9,480.2 460.3,480.3 461.7,480.4 463.1,480.5 464.5,480.5 465.9,480.6 467.3,480.7 468.7,480.8 470.1,480.9 471.5,481.0 472.9,481.1 474.3,481.2 475.7,481.2 477.1,481.3 478.5,481.4 479.9,481.5 481.3,481.6 482.7,481.7 484.1,481.8 485.5,481.8 486.9,481.9 488.3,482.0 489.7,482.1 491.1,482.2 492.5,482.3 493.9,482.3 495.3,482.4 496.7,482.5 498.1,482.6 499.5,482.7 500.9,482.7 502.3,482.8 503.7,482.9 505.1,483.0 506.5,483.0 507.9,483.1 509.3,483.2 510.7,483.2 512.1,483.3 513.5,483.4 514.9,483.4 516.3,483.5 517.7,483.6 519.1,483.7 520.5,483.7 521.9,483.8 523.3,483.9 524.7,483.9 526.1,484.0 527.5,484.1 528.9,484.1 530.3,484.2 531.7,484.3 533.1,484.3 534.5,484.4 535.9,484.5 537.3,484.5 538.7,484.6 540.1,484.7 541.5,484.7 542.9,484.8 544.3,484.9 545.7,484.9 547.1,485.0 548.5,485.0 549.9,485.1 551.3,485.1 552.7,485.2 554.1,485.2 555.5,485.3 556.9,485.3 558.3,485.4 559.7,485.4 561.1,485.4 562.5,485.5 563.9,485.5 565.3,485.5 566.7,485.6 568.1,485.6 569.5,485.7 570.9,485.7 572.3,485.7 573.7,485.7 575.1,485.2 576.5,483.9 577.9,484.1 579.3,485.8 580.7,487.6 582.1,488.4 583.5,488.1 584.9,487.5 586.3,487.0 587.7,486.9 589.1,486.9 590.5,486.9 591.9,486.9 593.3,487.0 594.7,487.0 596.1,487.0 597.5,487.1 598.9,487.1 600.3,487.1 601.7,487.1 603.1,487.2 604.5,487.2 605.9,487.2 607.3,487.2 608.7,487.3 610.1,487.3 611.5,487.3 612.9,487.3 614.3,487.4 615.7,487.4 617.1,487.4 618.5,487.4 619.9,487.5 621.3,487.5 622.7,487.5 624.1,487.6 625.5,487.6 626.9,487.6 628.3,487.7 629.7,487.7 631.1,487.7 632.5,487.7 633.9,487.8 635.3,487.8 636.7,487.8 638.1,487.9 639.5,487.9 640.9,487.9 642.3,488.0 643.7,488.0 645.1,488.0 646.5,488.1 647.9,488.1 649.3,488.1 650.7,488.1 652.1,488.2 653.5,488.2 654.9,488.2 656.3,488.3 657.7,488.3 659.1,488.3 660.5,488.4 661.9,488.4 663.3,488.4 664.7,488.5 666.1,488.5 667.5,488.5 668.9,488.6 670.3,488.6 671.7,488.6 673.1,488.7 674.5,488.7 675.9,488.7 677.3,488.7 678.7,488.8 680.1,488.8 681.5,488.8 682.9,488.9 684.3,488.9 685.7,488.9 687.1,489.0 688.5,489.0 689.9,489.0 691.3,489.0 692.7,489.1 694.1,489.1 695.5,489.1 696.9,489.2 698.3,489.2 699.7,489.2 701.1,489.3 702.5,489.3 703.9,489.3 705.3,489.3 706.7,489.4 708.1,489.4 709.5,489.4 710.9,489.5 712.3,489.5 713.7,489.5 715.1,489.5 716.5,489.6 717.9,489.6 719.3,489.6 720.7,489.7 722.1,489.7 723.5,489.7 724.9,489.8 726.3,489.8 727.7,489.8 729.1,489.8 730.5,489.9 731.9,489.9 733.3,489.9 734.7,490.0 736.1,490.0 737.5,490.0 738.9,490.1 740.3,490.1 741.7,490.1 743.1,490.1 744.5,490.2 745.9,490.2 747.3,490.2 748.7,490.3 750.1,490.3 751.5,490.3 752.9,490.4 754.3,490.4 755.7,490.4 757.1,490.4 758.5,490.5 762.5,490.6"/></g>
<g font-size="38">
<text x="113.3" y="514.7" text-anchor="end">0.0</text><text x="113.3" y="367.5" text-anchor="end">0.5</text><text x="81.61" y="220.3">.0</text><path transform="translate(60.48,220.30) scale(0.01855,-0.01855)" d="M763 0L583 0L583 1147Q518 1085 412 1023Q306 961 222 930L222 1104Q373 1175 486 1276Q599 1377 646 1472L763 1472Z"/><text x="81.61" y="73.1">.5</text><path transform="translate(60.48,73.10) scale(0.01855,-0.01855)" d="M763 0L583 0L583 1147Q518 1085 412 1023Q306 961 222 930L222 1104Q373 1175 486 1276Q599 1377 646 1472L763 1472Z"/>
<text x="199.8" y="563.5" text-anchor="middle">350</text><text x="339.8" y="563.5" text-anchor="middle">400</text><text x="479.8" y="563.5" text-anchor="middle">450</text><text x="619.8" y="563.5" text-anchor="middle">500</text><text x="759.8" y="563.5" text-anchor="middle">550</text>
<text x="492.2" y="144.8">3,5-DTBQ</text>
<text x="548" y="343.3">complex</text><path transform="translate(700.04,343.30) scale(0.01855,-0.01855)" d="M763 0L583 0L583 1147Q518 1085 412 1023Q306 961 222 930L222 1104Q373 1175 486 1276Q599 1377 646 1472L763 1472Z"/>
<text x="580.5" y="395.4">3,5-DTBC</text>
</g>
<g font-size="42">
<text x="450.9" y="631.9" text-anchor="middle" font-size="42.3">Wavelength (nm)</text>
<text transform="translate(32.9,282) rotate(-90)" text-anchor="middle">Absorbance</text>
</g>
<g stroke="#000" stroke-width="4" stroke-linecap="round" fill="none">
<line x1="477" y1="201.5" x2="477" y2="62"/>
<line x1="541" y1="338.8" x2="364" y2="467"/>
<line x1="575.7" y1="382.8" x2="403" y2="490"/>
</g>
<g fill="#000">
<polygon points="477,52 473,65.5 481,65.5"/>
<polygon points="357.4,472.1 364.7,460.9 365.1,466.5 370.3,468.6"/>
<polygon points="396.6,494.4 404.7,483.7 404.7,489.4 409.7,491.9"/>
</g>
</svg>
</body></html>
